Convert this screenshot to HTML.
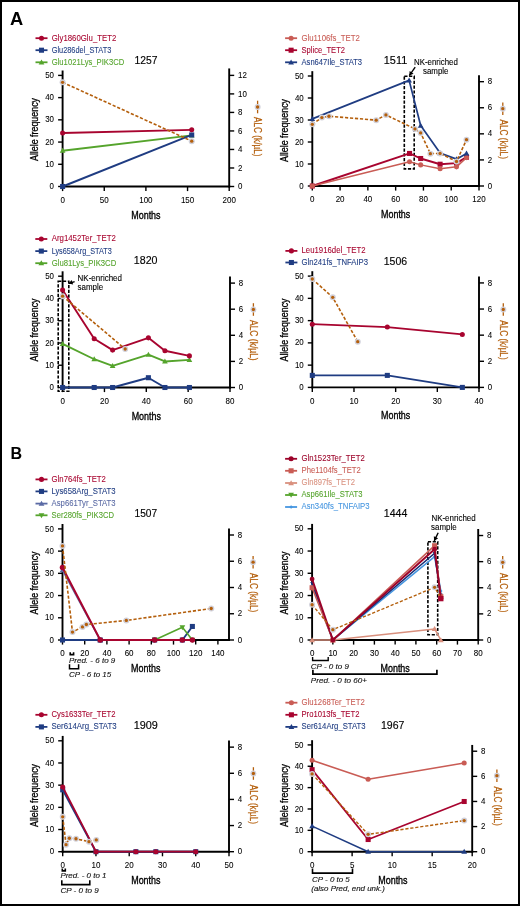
<!DOCTYPE html><html><head><meta charset="utf-8"><style>html,body{margin:0;padding:0;background:#fff;}svg{display:block;will-change:transform;}text{font-family:"Liberation Sans",sans-serif;}</style></head><body>
<svg width="520" height="906" viewBox="0 0 520 906">
<rect x="0" y="0" width="520" height="906" fill="#fff"/>
<text x="10" y="24.9" font-size="18" fill="#000" textLength="13.2" lengthAdjust="spacingAndGlyphs" font-weight="bold">A</text>
<text x="10.4" y="458.8" font-size="17.4" fill="#000" textLength="11.6" lengthAdjust="spacingAndGlyphs" font-weight="bold">B</text>
<line x1="62.6" y1="70.51" x2="62.6" y2="187.5" stroke="#000" stroke-width="1.9" stroke-linecap="butt"/>
<line x1="229.2" y1="68.44" x2="229.2" y2="187.5" stroke="#000" stroke-width="1.9" stroke-linecap="butt"/>
<line x1="61.6" y1="186.5" x2="230.2" y2="186.5" stroke="#000" stroke-width="1.9" stroke-linecap="butt"/>
<line x1="58.1" y1="186.5" x2="62.6" y2="186.5" stroke="#000" stroke-width="1.4" stroke-linecap="butt"/>
<text x="54" y="189.1" font-size="9" fill="#000" stroke="#000" stroke-width="0.08" text-anchor="end" textLength="4.4" lengthAdjust="spacingAndGlyphs">0</text>
<line x1="58.1" y1="164.28" x2="62.6" y2="164.28" stroke="#000" stroke-width="1.4" stroke-linecap="butt"/>
<text x="54" y="166.88" font-size="9" fill="#000" stroke="#000" stroke-width="0.08" text-anchor="end" textLength="8.8" lengthAdjust="spacingAndGlyphs">10</text>
<line x1="58.1" y1="142.06" x2="62.6" y2="142.06" stroke="#000" stroke-width="1.4" stroke-linecap="butt"/>
<text x="54" y="144.66" font-size="9" fill="#000" stroke="#000" stroke-width="0.08" text-anchor="end" textLength="8.8" lengthAdjust="spacingAndGlyphs">20</text>
<line x1="58.1" y1="119.84" x2="62.6" y2="119.84" stroke="#000" stroke-width="1.4" stroke-linecap="butt"/>
<text x="54" y="122.44" font-size="9" fill="#000" stroke="#000" stroke-width="0.08" text-anchor="end" textLength="8.8" lengthAdjust="spacingAndGlyphs">30</text>
<line x1="58.1" y1="97.62" x2="62.6" y2="97.62" stroke="#000" stroke-width="1.4" stroke-linecap="butt"/>
<text x="54" y="100.22" font-size="9" fill="#000" stroke="#000" stroke-width="0.08" text-anchor="end" textLength="8.8" lengthAdjust="spacingAndGlyphs">40</text>
<line x1="58.1" y1="75.4" x2="62.6" y2="75.4" stroke="#000" stroke-width="1.4" stroke-linecap="butt"/>
<text x="54" y="78" font-size="9" fill="#000" stroke="#000" stroke-width="0.08" text-anchor="end" textLength="8.8" lengthAdjust="spacingAndGlyphs">50</text>
<line x1="229.2" y1="186.5" x2="234.2" y2="186.5" stroke="#000" stroke-width="1.4" stroke-linecap="butt"/>
<text x="238" y="189.1" font-size="9" fill="#000" stroke="#000" stroke-width="0.08" textLength="4.4" lengthAdjust="spacingAndGlyphs">0</text>
<line x1="229.2" y1="167.98" x2="234.2" y2="167.98" stroke="#000" stroke-width="1.4" stroke-linecap="butt"/>
<text x="238" y="170.58" font-size="9" fill="#000" stroke="#000" stroke-width="0.08" textLength="4.4" lengthAdjust="spacingAndGlyphs">2</text>
<line x1="229.2" y1="149.46" x2="234.2" y2="149.46" stroke="#000" stroke-width="1.4" stroke-linecap="butt"/>
<text x="238" y="152.06" font-size="9" fill="#000" stroke="#000" stroke-width="0.08" textLength="4.4" lengthAdjust="spacingAndGlyphs">4</text>
<line x1="229.2" y1="130.94" x2="234.2" y2="130.94" stroke="#000" stroke-width="1.4" stroke-linecap="butt"/>
<text x="238" y="133.54" font-size="9" fill="#000" stroke="#000" stroke-width="0.08" textLength="4.4" lengthAdjust="spacingAndGlyphs">6</text>
<line x1="229.2" y1="112.42" x2="234.2" y2="112.42" stroke="#000" stroke-width="1.4" stroke-linecap="butt"/>
<text x="238" y="115.02" font-size="9" fill="#000" stroke="#000" stroke-width="0.08" textLength="4.4" lengthAdjust="spacingAndGlyphs">8</text>
<line x1="229.2" y1="93.9" x2="234.2" y2="93.9" stroke="#000" stroke-width="1.4" stroke-linecap="butt"/>
<text x="238" y="96.5" font-size="9" fill="#000" stroke="#000" stroke-width="0.08" textLength="8.8" lengthAdjust="spacingAndGlyphs">10</text>
<line x1="229.2" y1="75.38" x2="234.2" y2="75.38" stroke="#000" stroke-width="1.4" stroke-linecap="butt"/>
<text x="238" y="77.98" font-size="9" fill="#000" stroke="#000" stroke-width="0.08" textLength="8.8" lengthAdjust="spacingAndGlyphs">12</text>
<line x1="62.6" y1="186.5" x2="62.6" y2="191.1" stroke="#000" stroke-width="1.4" stroke-linecap="butt"/>
<line x1="104.25" y1="186.5" x2="104.25" y2="191.1" stroke="#000" stroke-width="1.4" stroke-linecap="butt"/>
<line x1="145.9" y1="186.5" x2="145.9" y2="191.1" stroke="#000" stroke-width="1.4" stroke-linecap="butt"/>
<line x1="187.55" y1="186.5" x2="187.55" y2="191.1" stroke="#000" stroke-width="1.4" stroke-linecap="butt"/>
<line x1="229.2" y1="186.5" x2="229.2" y2="191.1" stroke="#000" stroke-width="1.4" stroke-linecap="butt"/>
<text x="62.6" y="202.7" font-size="9" fill="#000" stroke="#000" stroke-width="0.08" text-anchor="middle" textLength="4.45" lengthAdjust="spacingAndGlyphs">0</text>
<text x="104.25" y="202.7" font-size="9" fill="#000" stroke="#000" stroke-width="0.08" text-anchor="middle" textLength="8.9" lengthAdjust="spacingAndGlyphs">50</text>
<text x="145.9" y="202.7" font-size="9" fill="#000" stroke="#000" stroke-width="0.08" text-anchor="middle" textLength="13.35" lengthAdjust="spacingAndGlyphs">100</text>
<text x="187.55" y="202.7" font-size="9" fill="#000" stroke="#000" stroke-width="0.08" text-anchor="middle" textLength="13.35" lengthAdjust="spacingAndGlyphs">150</text>
<text x="229.2" y="202.7" font-size="9" fill="#000" stroke="#000" stroke-width="0.08" text-anchor="middle" textLength="13.35" lengthAdjust="spacingAndGlyphs">200</text>
<polyline points="62.6,150.73 191.71,135.39" fill="none" stroke="#55a42c" stroke-width="1.9" stroke-linejoin="round"/>
<polygon points="62.6,147.87 59.74,152.87 65.46,152.87" fill="#55a42c"/>
<polygon points="191.71,132.53 188.85,137.54 194.57,137.54" fill="#55a42c"/>
<polyline points="62.6,186.5 191.71,134.95" fill="none" stroke="#1f3c82" stroke-width="1.9" stroke-linejoin="round"/>
<rect x="60.07" y="183.97" width="5.06" height="5.06" fill="#1f3c82"/>
<rect x="189.18" y="132.42" width="5.06" height="5.06" fill="#1f3c82"/>
<polyline points="62.6,132.95 191.71,129.84" fill="none" stroke="#a8042f" stroke-width="1.9" stroke-linejoin="round"/>
<circle cx="62.6" cy="132.95" r="2.53" fill="#a8042f"/>
<circle cx="191.71" cy="129.84" r="2.53" fill="#a8042f"/>
<polyline points="62.6,82.33 191.71,141.13" fill="none" stroke="#b45f0c" stroke-width="1.6" stroke-linejoin="round" stroke-dasharray="3.2,1.8"/>
<circle cx="62.6" cy="82.33" r="3.0" fill="#d0d0da"/>
<circle cx="62.6" cy="82.33" r="1.65" fill="#b45f0c"/>
<circle cx="191.71" cy="141.13" r="3.0" fill="#d0d0da"/>
<circle cx="191.71" cy="141.13" r="1.65" fill="#b45f0c"/>
<text x="38" y="129.5" font-size="11.5" fill="#000" stroke="#000" stroke-width="0.3" text-anchor="middle" textLength="63" lengthAdjust="spacingAndGlyphs" transform="rotate(-90 38 129.5)">Allele frequency</text>
<text x="145.9" y="218.5" font-size="10.8" fill="#000" stroke="#000" stroke-width="0.35" text-anchor="middle" textLength="29.3" lengthAdjust="spacingAndGlyphs">Months</text>
<line x1="257.6" y1="100.7" x2="257.6" y2="104.4" stroke="#b45f0c" stroke-width="1.3" stroke-linecap="butt"/>
<line x1="257.6" y1="109.6" x2="257.6" y2="113.3" stroke="#b45f0c" stroke-width="1.3" stroke-linecap="butt"/>
<circle cx="257.6" cy="107" r="3.0" fill="#d0d0da"/>
<circle cx="257.6" cy="107" r="1.65" fill="#b45f0c"/>
<text x="254.4" y="136.8" font-size="10.4" fill="#b45f0c" stroke="#b45f0c" stroke-width="0.25" text-anchor="middle" textLength="39.6" lengthAdjust="spacingAndGlyphs" transform="rotate(90 254.4 136.8)">ALC (k/µL)</text>
<line x1="35.5" y1="38.2" x2="47.5" y2="38.2" stroke="#a8042f" stroke-width="1.8" stroke-linecap="butt"/>
<circle cx="41.5" cy="38.2" r="2.53" fill="#a8042f"/>
<text x="51.7" y="40.6" font-size="8.2" fill="#a8042f" stroke="#a8042f" stroke-width="0.08" textLength="64.6" lengthAdjust="spacingAndGlyphs">Gly1860Glu_TET2</text>
<line x1="35.5" y1="50.2" x2="47.5" y2="50.2" stroke="#1f3c82" stroke-width="1.8" stroke-linecap="butt"/>
<rect x="38.97" y="47.67" width="5.06" height="5.06" fill="#1f3c82"/>
<text x="51.7" y="52.6" font-size="8.2" fill="#1f3c82" stroke="#1f3c82" stroke-width="0.08" textLength="59.6" lengthAdjust="spacingAndGlyphs">Glu286del_STAT3</text>
<line x1="35.5" y1="62.3" x2="47.5" y2="62.3" stroke="#55a42c" stroke-width="1.8" stroke-linecap="butt"/>
<polygon points="41.5,59.44 38.64,64.44 44.36,64.44" fill="#55a42c"/>
<text x="51.7" y="64.7" font-size="8.2" fill="#55a42c" stroke="#55a42c" stroke-width="0.08" textLength="72.6" lengthAdjust="spacingAndGlyphs">Glu1021Lys_PIK3CD</text>
<text x="134.5" y="63.8" font-size="11.3" fill="#000" stroke="#000" stroke-width="0.15" textLength="23" lengthAdjust="spacingAndGlyphs">1257</text>
<line x1="312.3" y1="71.16" x2="312.3" y2="187" stroke="#000" stroke-width="1.9" stroke-linecap="butt"/>
<line x1="479" y1="75.16" x2="479" y2="187" stroke="#000" stroke-width="1.9" stroke-linecap="butt"/>
<line x1="311.3" y1="186" x2="480" y2="186" stroke="#000" stroke-width="1.9" stroke-linecap="butt"/>
<line x1="307.8" y1="186" x2="312.3" y2="186" stroke="#000" stroke-width="1.4" stroke-linecap="butt"/>
<text x="303.7" y="188.6" font-size="9" fill="#000" stroke="#000" stroke-width="0.08" text-anchor="end" textLength="4.4" lengthAdjust="spacingAndGlyphs">0</text>
<line x1="307.8" y1="164" x2="312.3" y2="164" stroke="#000" stroke-width="1.4" stroke-linecap="butt"/>
<text x="303.7" y="166.6" font-size="9" fill="#000" stroke="#000" stroke-width="0.08" text-anchor="end" textLength="8.8" lengthAdjust="spacingAndGlyphs">10</text>
<line x1="307.8" y1="142" x2="312.3" y2="142" stroke="#000" stroke-width="1.4" stroke-linecap="butt"/>
<text x="303.7" y="144.6" font-size="9" fill="#000" stroke="#000" stroke-width="0.08" text-anchor="end" textLength="8.8" lengthAdjust="spacingAndGlyphs">20</text>
<line x1="307.8" y1="120" x2="312.3" y2="120" stroke="#000" stroke-width="1.4" stroke-linecap="butt"/>
<text x="303.7" y="122.6" font-size="9" fill="#000" stroke="#000" stroke-width="0.08" text-anchor="end" textLength="8.8" lengthAdjust="spacingAndGlyphs">30</text>
<line x1="307.8" y1="98" x2="312.3" y2="98" stroke="#000" stroke-width="1.4" stroke-linecap="butt"/>
<text x="303.7" y="100.6" font-size="9" fill="#000" stroke="#000" stroke-width="0.08" text-anchor="end" textLength="8.8" lengthAdjust="spacingAndGlyphs">40</text>
<line x1="307.8" y1="76" x2="312.3" y2="76" stroke="#000" stroke-width="1.4" stroke-linecap="butt"/>
<text x="303.7" y="78.6" font-size="9" fill="#000" stroke="#000" stroke-width="0.08" text-anchor="end" textLength="8.8" lengthAdjust="spacingAndGlyphs">50</text>
<line x1="479" y1="186" x2="484" y2="186" stroke="#000" stroke-width="1.4" stroke-linecap="butt"/>
<text x="487.8" y="188.6" font-size="9" fill="#000" stroke="#000" stroke-width="0.08" textLength="4.4" lengthAdjust="spacingAndGlyphs">0</text>
<line x1="479" y1="159.92" x2="484" y2="159.92" stroke="#000" stroke-width="1.4" stroke-linecap="butt"/>
<text x="487.8" y="162.52" font-size="9" fill="#000" stroke="#000" stroke-width="0.08" textLength="4.4" lengthAdjust="spacingAndGlyphs">2</text>
<line x1="479" y1="133.84" x2="484" y2="133.84" stroke="#000" stroke-width="1.4" stroke-linecap="butt"/>
<text x="487.8" y="136.44" font-size="9" fill="#000" stroke="#000" stroke-width="0.08" textLength="4.4" lengthAdjust="spacingAndGlyphs">4</text>
<line x1="479" y1="107.76" x2="484" y2="107.76" stroke="#000" stroke-width="1.4" stroke-linecap="butt"/>
<text x="487.8" y="110.36" font-size="9" fill="#000" stroke="#000" stroke-width="0.08" textLength="4.4" lengthAdjust="spacingAndGlyphs">6</text>
<line x1="479" y1="81.68" x2="484" y2="81.68" stroke="#000" stroke-width="1.4" stroke-linecap="butt"/>
<text x="487.8" y="84.28" font-size="9" fill="#000" stroke="#000" stroke-width="0.08" textLength="4.4" lengthAdjust="spacingAndGlyphs">8</text>
<line x1="312.3" y1="186" x2="312.3" y2="190.6" stroke="#000" stroke-width="1.4" stroke-linecap="butt"/>
<line x1="340.08" y1="186" x2="340.08" y2="190.6" stroke="#000" stroke-width="1.4" stroke-linecap="butt"/>
<line x1="367.87" y1="186" x2="367.87" y2="190.6" stroke="#000" stroke-width="1.4" stroke-linecap="butt"/>
<line x1="395.65" y1="186" x2="395.65" y2="190.6" stroke="#000" stroke-width="1.4" stroke-linecap="butt"/>
<line x1="423.43" y1="186" x2="423.43" y2="190.6" stroke="#000" stroke-width="1.4" stroke-linecap="butt"/>
<line x1="451.22" y1="186" x2="451.22" y2="190.6" stroke="#000" stroke-width="1.4" stroke-linecap="butt"/>
<line x1="479" y1="186" x2="479" y2="190.6" stroke="#000" stroke-width="1.4" stroke-linecap="butt"/>
<text x="312.3" y="202.2" font-size="9" fill="#000" stroke="#000" stroke-width="0.08" text-anchor="middle" textLength="4.45" lengthAdjust="spacingAndGlyphs">0</text>
<text x="340.08" y="202.2" font-size="9" fill="#000" stroke="#000" stroke-width="0.08" text-anchor="middle" textLength="8.9" lengthAdjust="spacingAndGlyphs">20</text>
<text x="367.87" y="202.2" font-size="9" fill="#000" stroke="#000" stroke-width="0.08" text-anchor="middle" textLength="8.9" lengthAdjust="spacingAndGlyphs">40</text>
<text x="395.65" y="202.2" font-size="9" fill="#000" stroke="#000" stroke-width="0.08" text-anchor="middle" textLength="8.9" lengthAdjust="spacingAndGlyphs">60</text>
<text x="423.43" y="202.2" font-size="9" fill="#000" stroke="#000" stroke-width="0.08" text-anchor="middle" textLength="8.9" lengthAdjust="spacingAndGlyphs">80</text>
<text x="451.22" y="202.2" font-size="9" fill="#000" stroke="#000" stroke-width="0.08" text-anchor="middle" textLength="13.35" lengthAdjust="spacingAndGlyphs">100</text>
<text x="479" y="202.2" font-size="9" fill="#000" stroke="#000" stroke-width="0.08" text-anchor="middle" textLength="13.35" lengthAdjust="spacingAndGlyphs">120</text>
<rect x="404.3" y="76.3" width="9.9" height="92.6" fill="none" stroke="#000" stroke-width="1.6" stroke-dasharray="3.2,1.6"/>
<line x1="415.2" y1="67.2" x2="409.3" y2="75.6" stroke="#000" stroke-width="1.4" stroke-linecap="butt"/>
<polygon points="409.3,75.6 409.64,70.95 413.56,73.71" fill="#000"/>
<text x="414" y="65.2" font-size="8.2" fill="#000" stroke="#000" stroke-width="0.1" textLength="43.8" lengthAdjust="spacingAndGlyphs">NK-enriched</text>
<text x="423" y="74" font-size="8.2" fill="#000" stroke="#000" stroke-width="0.1" textLength="25.5" lengthAdjust="spacingAndGlyphs">sample</text>
<polyline points="312.3,186 409.54,153.44 420.66,158.5 440.1,164.22 456.5,163.12 466.5,157.18" fill="none" stroke="#a8042f" stroke-width="1.9" stroke-linejoin="round"/>
<rect x="309.77" y="183.47" width="5.06" height="5.06" fill="#a8042f"/>
<rect x="407.01" y="150.91" width="5.06" height="5.06" fill="#a8042f"/>
<rect x="418.13" y="155.97" width="5.06" height="5.06" fill="#a8042f"/>
<rect x="437.57" y="161.69" width="5.06" height="5.06" fill="#a8042f"/>
<rect x="453.97" y="160.59" width="5.06" height="5.06" fill="#a8042f"/>
<rect x="463.97" y="154.65" width="5.06" height="5.06" fill="#a8042f"/>
<polyline points="312.3,186 409.54,161.8 420.66,164.88 440.1,168.84 456.5,166.86 466.5,157.62" fill="none" stroke="#c95c55" stroke-width="1.5" stroke-linejoin="round"/>
<circle cx="312.3" cy="186" r="2.53" fill="#c95c55"/>
<circle cx="409.54" cy="161.8" r="2.53" fill="#c95c55"/>
<circle cx="420.66" cy="164.88" r="2.53" fill="#c95c55"/>
<circle cx="440.1" cy="168.84" r="2.53" fill="#c95c55"/>
<circle cx="456.5" cy="166.86" r="2.53" fill="#c95c55"/>
<circle cx="466.5" cy="157.62" r="2.53" fill="#c95c55"/>
<polyline points="312.3,118.9 409.12,80.4 420.66,125.5 440.1,153 456.5,159.16 466.5,153.44" fill="none" stroke="#1f3c82" stroke-width="1.7" stroke-linejoin="round"/>
<polygon points="312.3,116.04 309.44,121.04 315.16,121.04" fill="#1f3c82"/>
<polygon points="409.12,77.54 406.26,82.54 411.98,82.54" fill="#1f3c82"/>
<polygon points="420.66,122.64 417.8,127.64 423.52,127.64" fill="#1f3c82"/>
<polygon points="440.1,150.14 437.24,155.15 442.96,155.15" fill="#1f3c82"/>
<polygon points="456.5,156.3 453.64,161.31 459.36,161.31" fill="#1f3c82"/>
<polygon points="466.5,150.58 463.64,155.59 469.36,155.59" fill="#1f3c82"/>
<polyline points="312.3,124.32 321.89,117.54 328.97,116.24 376.2,120.15 385.93,114.93 414.96,128.88 420.66,132.93 430.38,153.66 440.1,153.4 456.5,161.48 466.5,139.71" fill="none" stroke="#b45f0c" stroke-width="1.6" stroke-linejoin="round" stroke-dasharray="3.2,1.8"/>
<circle cx="312.3" cy="124.32" r="3.0" fill="#d0d0da"/>
<circle cx="312.3" cy="124.32" r="1.65" fill="#b45f0c"/>
<circle cx="321.89" cy="117.54" r="3.0" fill="#d0d0da"/>
<circle cx="321.89" cy="117.54" r="1.65" fill="#b45f0c"/>
<circle cx="328.97" cy="116.24" r="3.0" fill="#d0d0da"/>
<circle cx="328.97" cy="116.24" r="1.65" fill="#b45f0c"/>
<circle cx="376.2" cy="120.15" r="3.0" fill="#d0d0da"/>
<circle cx="376.2" cy="120.15" r="1.65" fill="#b45f0c"/>
<circle cx="385.93" cy="114.93" r="3.0" fill="#d0d0da"/>
<circle cx="385.93" cy="114.93" r="1.65" fill="#b45f0c"/>
<circle cx="414.96" cy="128.88" r="3.0" fill="#d0d0da"/>
<circle cx="414.96" cy="128.88" r="1.65" fill="#b45f0c"/>
<circle cx="420.66" cy="132.93" r="3.0" fill="#d0d0da"/>
<circle cx="420.66" cy="132.93" r="1.65" fill="#b45f0c"/>
<circle cx="430.38" cy="153.66" r="3.0" fill="#d0d0da"/>
<circle cx="430.38" cy="153.66" r="1.65" fill="#b45f0c"/>
<circle cx="440.1" cy="153.4" r="3.0" fill="#d0d0da"/>
<circle cx="440.1" cy="153.4" r="1.65" fill="#b45f0c"/>
<circle cx="456.5" cy="161.48" r="3.0" fill="#d0d0da"/>
<circle cx="456.5" cy="161.48" r="1.65" fill="#b45f0c"/>
<circle cx="466.5" cy="139.71" r="3.0" fill="#d0d0da"/>
<circle cx="466.5" cy="139.71" r="1.65" fill="#b45f0c"/>
<text x="287.5" y="130.5" font-size="11.5" fill="#000" stroke="#000" stroke-width="0.3" text-anchor="middle" textLength="63" lengthAdjust="spacingAndGlyphs" transform="rotate(-90 287.5 130.5)">Allele frequency</text>
<text x="395.65" y="218" font-size="10.8" fill="#000" stroke="#000" stroke-width="0.35" text-anchor="middle" textLength="29.3" lengthAdjust="spacingAndGlyphs">Months</text>
<line x1="502.8" y1="102.4" x2="502.8" y2="106.1" stroke="#b45f0c" stroke-width="1.3" stroke-linecap="butt"/>
<line x1="502.8" y1="111.3" x2="502.8" y2="115" stroke="#b45f0c" stroke-width="1.3" stroke-linecap="butt"/>
<circle cx="502.8" cy="108.7" r="3.0" fill="#d0d0da"/>
<circle cx="502.8" cy="108.7" r="1.65" fill="#b45f0c"/>
<text x="499.6" y="139.2" font-size="10.4" fill="#b45f0c" stroke="#b45f0c" stroke-width="0.25" text-anchor="middle" textLength="39.4" lengthAdjust="spacingAndGlyphs" transform="rotate(90 499.6 139.2)">ALC (k/µL)</text>
<line x1="285.1" y1="38.2" x2="297.1" y2="38.2" stroke="#c95c55" stroke-width="1.8" stroke-linecap="butt"/>
<circle cx="291.1" cy="38.2" r="2.53" fill="#c95c55"/>
<text x="301.5" y="40.6" font-size="8.2" fill="#c95c55" stroke="#c95c55" stroke-width="0.08" textLength="58.3" lengthAdjust="spacingAndGlyphs">Glu1106fs_TET2</text>
<line x1="285.1" y1="50.2" x2="297.1" y2="50.2" stroke="#a8042f" stroke-width="1.8" stroke-linecap="butt"/>
<rect x="288.57" y="47.67" width="5.06" height="5.06" fill="#a8042f"/>
<text x="301.5" y="52.6" font-size="8.2" fill="#a8042f" stroke="#a8042f" stroke-width="0.08" textLength="43.5" lengthAdjust="spacingAndGlyphs">Splice_TET2</text>
<line x1="285.1" y1="62.3" x2="297.1" y2="62.3" stroke="#1f3c82" stroke-width="1.8" stroke-linecap="butt"/>
<polygon points="291.1,59.44 288.24,64.44 293.96,64.44" fill="#1f3c82"/>
<text x="301.5" y="64.7" font-size="8.2" fill="#1f3c82" stroke="#1f3c82" stroke-width="0.08" textLength="60.6" lengthAdjust="spacingAndGlyphs">Asn647Ile_STAT3</text>
<text x="383.8" y="63.8" font-size="11.3" fill="#000" stroke="#000" stroke-width="0.15" textLength="23.4" lengthAdjust="spacingAndGlyphs">1511</text>
<line x1="62.6" y1="271.3" x2="62.6" y2="388.5" stroke="#000" stroke-width="1.9" stroke-linecap="butt"/>
<line x1="230" y1="276.57" x2="230" y2="388.5" stroke="#000" stroke-width="1.9" stroke-linecap="butt"/>
<line x1="61.6" y1="387.5" x2="231" y2="387.5" stroke="#000" stroke-width="1.9" stroke-linecap="butt"/>
<line x1="58.1" y1="387.5" x2="62.6" y2="387.5" stroke="#000" stroke-width="1.4" stroke-linecap="butt"/>
<text x="54" y="390.1" font-size="9" fill="#000" stroke="#000" stroke-width="0.08" text-anchor="end" textLength="4.4" lengthAdjust="spacingAndGlyphs">0</text>
<line x1="58.1" y1="365.24" x2="62.6" y2="365.24" stroke="#000" stroke-width="1.4" stroke-linecap="butt"/>
<text x="54" y="367.84" font-size="9" fill="#000" stroke="#000" stroke-width="0.08" text-anchor="end" textLength="8.8" lengthAdjust="spacingAndGlyphs">10</text>
<line x1="58.1" y1="342.98" x2="62.6" y2="342.98" stroke="#000" stroke-width="1.4" stroke-linecap="butt"/>
<text x="54" y="345.58" font-size="9" fill="#000" stroke="#000" stroke-width="0.08" text-anchor="end" textLength="8.8" lengthAdjust="spacingAndGlyphs">20</text>
<line x1="58.1" y1="320.72" x2="62.6" y2="320.72" stroke="#000" stroke-width="1.4" stroke-linecap="butt"/>
<text x="54" y="323.32" font-size="9" fill="#000" stroke="#000" stroke-width="0.08" text-anchor="end" textLength="8.8" lengthAdjust="spacingAndGlyphs">30</text>
<line x1="58.1" y1="298.46" x2="62.6" y2="298.46" stroke="#000" stroke-width="1.4" stroke-linecap="butt"/>
<text x="54" y="301.06" font-size="9" fill="#000" stroke="#000" stroke-width="0.08" text-anchor="end" textLength="8.8" lengthAdjust="spacingAndGlyphs">40</text>
<line x1="58.1" y1="276.2" x2="62.6" y2="276.2" stroke="#000" stroke-width="1.4" stroke-linecap="butt"/>
<text x="54" y="278.8" font-size="9" fill="#000" stroke="#000" stroke-width="0.08" text-anchor="end" textLength="8.8" lengthAdjust="spacingAndGlyphs">50</text>
<line x1="230" y1="387.5" x2="235" y2="387.5" stroke="#000" stroke-width="1.4" stroke-linecap="butt"/>
<text x="238.8" y="390.1" font-size="9" fill="#000" stroke="#000" stroke-width="0.08" textLength="4.4" lengthAdjust="spacingAndGlyphs">0</text>
<line x1="230" y1="361.4" x2="235" y2="361.4" stroke="#000" stroke-width="1.4" stroke-linecap="butt"/>
<text x="238.8" y="364" font-size="9" fill="#000" stroke="#000" stroke-width="0.08" textLength="4.4" lengthAdjust="spacingAndGlyphs">2</text>
<line x1="230" y1="335.3" x2="235" y2="335.3" stroke="#000" stroke-width="1.4" stroke-linecap="butt"/>
<text x="238.8" y="337.9" font-size="9" fill="#000" stroke="#000" stroke-width="0.08" textLength="4.4" lengthAdjust="spacingAndGlyphs">4</text>
<line x1="230" y1="309.2" x2="235" y2="309.2" stroke="#000" stroke-width="1.4" stroke-linecap="butt"/>
<text x="238.8" y="311.8" font-size="9" fill="#000" stroke="#000" stroke-width="0.08" textLength="4.4" lengthAdjust="spacingAndGlyphs">6</text>
<line x1="230" y1="283.1" x2="235" y2="283.1" stroke="#000" stroke-width="1.4" stroke-linecap="butt"/>
<text x="238.8" y="285.7" font-size="9" fill="#000" stroke="#000" stroke-width="0.08" textLength="4.4" lengthAdjust="spacingAndGlyphs">8</text>
<line x1="62.6" y1="387.5" x2="62.6" y2="392.1" stroke="#000" stroke-width="1.4" stroke-linecap="butt"/>
<line x1="104.45" y1="387.5" x2="104.45" y2="392.1" stroke="#000" stroke-width="1.4" stroke-linecap="butt"/>
<line x1="146.3" y1="387.5" x2="146.3" y2="392.1" stroke="#000" stroke-width="1.4" stroke-linecap="butt"/>
<line x1="188.15" y1="387.5" x2="188.15" y2="392.1" stroke="#000" stroke-width="1.4" stroke-linecap="butt"/>
<line x1="230" y1="387.5" x2="230" y2="392.1" stroke="#000" stroke-width="1.4" stroke-linecap="butt"/>
<text x="62.6" y="403.7" font-size="9" fill="#000" stroke="#000" stroke-width="0.08" text-anchor="middle" textLength="4.45" lengthAdjust="spacingAndGlyphs">0</text>
<text x="104.45" y="403.7" font-size="9" fill="#000" stroke="#000" stroke-width="0.08" text-anchor="middle" textLength="8.9" lengthAdjust="spacingAndGlyphs">20</text>
<text x="146.3" y="403.7" font-size="9" fill="#000" stroke="#000" stroke-width="0.08" text-anchor="middle" textLength="8.9" lengthAdjust="spacingAndGlyphs">40</text>
<text x="188.15" y="403.7" font-size="9" fill="#000" stroke="#000" stroke-width="0.08" text-anchor="middle" textLength="8.9" lengthAdjust="spacingAndGlyphs">60</text>
<text x="230" y="403.7" font-size="9" fill="#000" stroke="#000" stroke-width="0.08" text-anchor="middle" textLength="8.9" lengthAdjust="spacingAndGlyphs">80</text>
<rect x="58.2" y="281.2" width="10.6" height="110.1" fill="none" stroke="#000" stroke-width="1.6" stroke-dasharray="3.2,1.6"/>
<line x1="74.6" y1="281.6" x2="68.6" y2="283.6" stroke="#000" stroke-width="1.4" stroke-linecap="butt"/>
<polygon points="68.6,283.6 71.64,280.06 73.15,284.61" fill="#000"/>
<text x="77.6" y="280.5" font-size="8.2" fill="#000" stroke="#000" stroke-width="0.1" textLength="44.4" lengthAdjust="spacingAndGlyphs">NK-enriched</text>
<text x="77.6" y="289.6" font-size="8.2" fill="#000" stroke="#000" stroke-width="0.1" textLength="25.6" lengthAdjust="spacingAndGlyphs">sample</text>
<polyline points="62.6,387.5 94.2,387.5 112.61,387.5 148.39,377.71 164.92,387.5 189.41,387.5" fill="none" stroke="#1f3c82" stroke-width="1.9" stroke-linejoin="round"/>
<rect x="60.07" y="384.97" width="5.06" height="5.06" fill="#1f3c82"/>
<rect x="91.67" y="384.97" width="5.06" height="5.06" fill="#1f3c82"/>
<rect x="110.08" y="384.97" width="5.06" height="5.06" fill="#1f3c82"/>
<rect x="145.86" y="375.18" width="5.06" height="5.06" fill="#1f3c82"/>
<rect x="162.39" y="384.97" width="5.06" height="5.06" fill="#1f3c82"/>
<rect x="186.88" y="384.97" width="5.06" height="5.06" fill="#1f3c82"/>
<polyline points="62.6,343.87 94.2,359.23 112.61,365.91 148.39,354.56 164.92,361.46 189.41,359.9" fill="none" stroke="#55a42c" stroke-width="1.9" stroke-linejoin="round"/>
<polygon points="62.6,341.01 59.74,346.02 65.46,346.02" fill="#55a42c"/>
<polygon points="94.2,356.37 91.34,361.37 97.06,361.37" fill="#55a42c"/>
<polygon points="112.61,363.05 109.75,368.05 115.47,368.05" fill="#55a42c"/>
<polygon points="148.39,351.7 145.53,356.7 151.25,356.7" fill="#55a42c"/>
<polygon points="164.92,358.6 162.06,363.6 167.78,363.6" fill="#55a42c"/>
<polygon points="189.41,357.04 186.55,362.04 192.27,362.04" fill="#55a42c"/>
<polyline points="62.6,290 94.2,338.75 112.61,350.1 148.39,337.86 164.92,350.77 189.41,355.89" fill="none" stroke="#a8042f" stroke-width="1.9" stroke-linejoin="round"/>
<circle cx="62.6" cy="290" r="2.53" fill="#a8042f"/>
<circle cx="94.2" cy="338.75" r="2.53" fill="#a8042f"/>
<circle cx="112.61" cy="350.1" r="2.53" fill="#a8042f"/>
<circle cx="148.39" cy="337.86" r="2.53" fill="#a8042f"/>
<circle cx="164.92" cy="350.77" r="2.53" fill="#a8042f"/>
<circle cx="189.41" cy="355.89" r="2.53" fill="#a8042f"/>
<polyline points="62.6,296.15 125.17,349" fill="none" stroke="#b45f0c" stroke-width="1.6" stroke-linejoin="round" stroke-dasharray="3.2,1.8"/>
<circle cx="62.6" cy="296.15" r="3.0" fill="#d0d0da"/>
<circle cx="62.6" cy="296.15" r="1.65" fill="#b45f0c"/>
<circle cx="125.17" cy="349" r="3.0" fill="#d0d0da"/>
<circle cx="125.17" cy="349" r="1.65" fill="#b45f0c"/>
<text x="38" y="330" font-size="11.5" fill="#000" stroke="#000" stroke-width="0.3" text-anchor="middle" textLength="63" lengthAdjust="spacingAndGlyphs" transform="rotate(-90 38 330)">Allele frequency</text>
<text x="146.3" y="419.5" font-size="10.8" fill="#000" stroke="#000" stroke-width="0.35" text-anchor="middle" textLength="29.3" lengthAdjust="spacingAndGlyphs">Months</text>
<line x1="253.4" y1="303.2" x2="253.4" y2="306.9" stroke="#b45f0c" stroke-width="1.3" stroke-linecap="butt"/>
<line x1="253.4" y1="312.1" x2="253.4" y2="315.8" stroke="#b45f0c" stroke-width="1.3" stroke-linecap="butt"/>
<circle cx="253.4" cy="309.5" r="3.0" fill="#d0d0da"/>
<circle cx="253.4" cy="309.5" r="1.65" fill="#b45f0c"/>
<text x="250.2" y="340.35" font-size="10.4" fill="#b45f0c" stroke="#b45f0c" stroke-width="0.25" text-anchor="middle" textLength="40.7" lengthAdjust="spacingAndGlyphs" transform="rotate(90 250.2 340.35)">ALC (k/µL)</text>
<line x1="35.3" y1="239" x2="47.3" y2="239" stroke="#a8042f" stroke-width="1.8" stroke-linecap="butt"/>
<circle cx="41.3" cy="239" r="2.53" fill="#a8042f"/>
<text x="51.7" y="241.4" font-size="8.2" fill="#a8042f" stroke="#a8042f" stroke-width="0.08" textLength="64.1" lengthAdjust="spacingAndGlyphs">Arg1452Ter_TET2</text>
<line x1="35.3" y1="251.1" x2="47.3" y2="251.1" stroke="#1f3c82" stroke-width="1.8" stroke-linecap="butt"/>
<rect x="38.77" y="248.57" width="5.06" height="5.06" fill="#1f3c82"/>
<text x="51.7" y="253.5" font-size="8.2" fill="#1f3c82" stroke="#1f3c82" stroke-width="0.08" textLength="60.1" lengthAdjust="spacingAndGlyphs">Lys658Arg_STAT3</text>
<line x1="35.3" y1="263.2" x2="47.3" y2="263.2" stroke="#55a42c" stroke-width="1.8" stroke-linecap="butt"/>
<polygon points="41.3,260.34 38.44,265.34 44.16,265.34" fill="#55a42c"/>
<text x="51.7" y="265.6" font-size="8.2" fill="#55a42c" stroke="#55a42c" stroke-width="0.08" textLength="64.6" lengthAdjust="spacingAndGlyphs">Glu81Lys_PIK3CD</text>
<text x="133.8" y="264.4" font-size="11.3" fill="#000" stroke="#000" stroke-width="0.15" textLength="23.7" lengthAdjust="spacingAndGlyphs">1820</text>
<line x1="312.3" y1="271.2" x2="312.3" y2="388.4" stroke="#000" stroke-width="1.9" stroke-linecap="butt"/>
<line x1="479" y1="276.39" x2="479" y2="388.4" stroke="#000" stroke-width="1.9" stroke-linecap="butt"/>
<line x1="311.3" y1="387.4" x2="480" y2="387.4" stroke="#000" stroke-width="1.9" stroke-linecap="butt"/>
<line x1="307.8" y1="387.4" x2="312.3" y2="387.4" stroke="#000" stroke-width="1.4" stroke-linecap="butt"/>
<text x="303.7" y="390" font-size="9" fill="#000" stroke="#000" stroke-width="0.08" text-anchor="end" textLength="4.4" lengthAdjust="spacingAndGlyphs">0</text>
<line x1="307.8" y1="365.14" x2="312.3" y2="365.14" stroke="#000" stroke-width="1.4" stroke-linecap="butt"/>
<text x="303.7" y="367.74" font-size="9" fill="#000" stroke="#000" stroke-width="0.08" text-anchor="end" textLength="8.8" lengthAdjust="spacingAndGlyphs">10</text>
<line x1="307.8" y1="342.88" x2="312.3" y2="342.88" stroke="#000" stroke-width="1.4" stroke-linecap="butt"/>
<text x="303.7" y="345.48" font-size="9" fill="#000" stroke="#000" stroke-width="0.08" text-anchor="end" textLength="8.8" lengthAdjust="spacingAndGlyphs">20</text>
<line x1="307.8" y1="320.62" x2="312.3" y2="320.62" stroke="#000" stroke-width="1.4" stroke-linecap="butt"/>
<text x="303.7" y="323.22" font-size="9" fill="#000" stroke="#000" stroke-width="0.08" text-anchor="end" textLength="8.8" lengthAdjust="spacingAndGlyphs">30</text>
<line x1="307.8" y1="298.36" x2="312.3" y2="298.36" stroke="#000" stroke-width="1.4" stroke-linecap="butt"/>
<text x="303.7" y="300.96" font-size="9" fill="#000" stroke="#000" stroke-width="0.08" text-anchor="end" textLength="8.8" lengthAdjust="spacingAndGlyphs">40</text>
<line x1="307.8" y1="276.1" x2="312.3" y2="276.1" stroke="#000" stroke-width="1.4" stroke-linecap="butt"/>
<text x="303.7" y="278.7" font-size="9" fill="#000" stroke="#000" stroke-width="0.08" text-anchor="end" textLength="8.8" lengthAdjust="spacingAndGlyphs">50</text>
<line x1="479" y1="387.4" x2="484" y2="387.4" stroke="#000" stroke-width="1.4" stroke-linecap="butt"/>
<text x="487.8" y="390" font-size="9" fill="#000" stroke="#000" stroke-width="0.08" textLength="4.4" lengthAdjust="spacingAndGlyphs">0</text>
<line x1="479" y1="361.28" x2="484" y2="361.28" stroke="#000" stroke-width="1.4" stroke-linecap="butt"/>
<text x="487.8" y="363.88" font-size="9" fill="#000" stroke="#000" stroke-width="0.08" textLength="4.4" lengthAdjust="spacingAndGlyphs">2</text>
<line x1="479" y1="335.16" x2="484" y2="335.16" stroke="#000" stroke-width="1.4" stroke-linecap="butt"/>
<text x="487.8" y="337.76" font-size="9" fill="#000" stroke="#000" stroke-width="0.08" textLength="4.4" lengthAdjust="spacingAndGlyphs">4</text>
<line x1="479" y1="309.04" x2="484" y2="309.04" stroke="#000" stroke-width="1.4" stroke-linecap="butt"/>
<text x="487.8" y="311.64" font-size="9" fill="#000" stroke="#000" stroke-width="0.08" textLength="4.4" lengthAdjust="spacingAndGlyphs">6</text>
<line x1="479" y1="282.92" x2="484" y2="282.92" stroke="#000" stroke-width="1.4" stroke-linecap="butt"/>
<text x="487.8" y="285.52" font-size="9" fill="#000" stroke="#000" stroke-width="0.08" textLength="4.4" lengthAdjust="spacingAndGlyphs">8</text>
<line x1="312.3" y1="387.4" x2="312.3" y2="392" stroke="#000" stroke-width="1.4" stroke-linecap="butt"/>
<line x1="353.98" y1="387.4" x2="353.98" y2="392" stroke="#000" stroke-width="1.4" stroke-linecap="butt"/>
<line x1="395.65" y1="387.4" x2="395.65" y2="392" stroke="#000" stroke-width="1.4" stroke-linecap="butt"/>
<line x1="437.32" y1="387.4" x2="437.32" y2="392" stroke="#000" stroke-width="1.4" stroke-linecap="butt"/>
<line x1="479" y1="387.4" x2="479" y2="392" stroke="#000" stroke-width="1.4" stroke-linecap="butt"/>
<text x="312.3" y="403.6" font-size="9" fill="#000" stroke="#000" stroke-width="0.08" text-anchor="middle" textLength="4.45" lengthAdjust="spacingAndGlyphs">0</text>
<text x="353.98" y="403.6" font-size="9" fill="#000" stroke="#000" stroke-width="0.08" text-anchor="middle" textLength="8.9" lengthAdjust="spacingAndGlyphs">10</text>
<text x="395.65" y="403.6" font-size="9" fill="#000" stroke="#000" stroke-width="0.08" text-anchor="middle" textLength="8.9" lengthAdjust="spacingAndGlyphs">20</text>
<text x="437.32" y="403.6" font-size="9" fill="#000" stroke="#000" stroke-width="0.08" text-anchor="middle" textLength="8.9" lengthAdjust="spacingAndGlyphs">30</text>
<text x="479" y="403.6" font-size="9" fill="#000" stroke="#000" stroke-width="0.08" text-anchor="middle" textLength="8.9" lengthAdjust="spacingAndGlyphs">40</text>
<polyline points="312.3,375.38 387.31,375.38 462.33,387.4" fill="none" stroke="#1f3c82" stroke-width="1.7" stroke-linejoin="round"/>
<rect x="309.77" y="372.85" width="5.06" height="5.06" fill="#1f3c82"/>
<rect x="384.79" y="372.85" width="5.06" height="5.06" fill="#1f3c82"/>
<rect x="459.8" y="384.87" width="5.06" height="5.06" fill="#1f3c82"/>
<polyline points="312.3,324.18 387.31,327.08 462.33,334.42" fill="none" stroke="#a8042f" stroke-width="1.7" stroke-linejoin="round"/>
<circle cx="312.3" cy="324.18" r="2.53" fill="#a8042f"/>
<circle cx="387.31" cy="327.08" r="2.53" fill="#a8042f"/>
<circle cx="462.33" cy="334.42" r="2.53" fill="#a8042f"/>
<polyline points="312.3,279 332.72,297.29 357.73,341.69" fill="none" stroke="#b45f0c" stroke-width="1.6" stroke-linejoin="round" stroke-dasharray="3.2,1.8"/>
<circle cx="312.3" cy="279" r="3.0" fill="#d0d0da"/>
<circle cx="312.3" cy="279" r="1.65" fill="#b45f0c"/>
<circle cx="332.72" cy="297.29" r="3.0" fill="#d0d0da"/>
<circle cx="332.72" cy="297.29" r="1.65" fill="#b45f0c"/>
<circle cx="357.73" cy="341.69" r="3.0" fill="#d0d0da"/>
<circle cx="357.73" cy="341.69" r="1.65" fill="#b45f0c"/>
<text x="287.5" y="330" font-size="11.5" fill="#000" stroke="#000" stroke-width="0.3" text-anchor="middle" textLength="63" lengthAdjust="spacingAndGlyphs" transform="rotate(-90 287.5 330)">Allele frequency</text>
<text x="395.65" y="419.4" font-size="10.8" fill="#000" stroke="#000" stroke-width="0.35" text-anchor="middle" textLength="29.3" lengthAdjust="spacingAndGlyphs">Months</text>
<line x1="503.3" y1="303.2" x2="503.3" y2="306.9" stroke="#b45f0c" stroke-width="1.3" stroke-linecap="butt"/>
<line x1="503.3" y1="312.1" x2="503.3" y2="315.8" stroke="#b45f0c" stroke-width="1.3" stroke-linecap="butt"/>
<circle cx="503.3" cy="309.5" r="3.0" fill="#d0d0da"/>
<circle cx="503.3" cy="309.5" r="1.65" fill="#b45f0c"/>
<text x="500.1" y="339.95" font-size="10.4" fill="#b45f0c" stroke="#b45f0c" stroke-width="0.25" text-anchor="middle" textLength="39.5" lengthAdjust="spacingAndGlyphs" transform="rotate(90 500.1 339.95)">ALC (k/µL)</text>
<line x1="285.4" y1="250.9" x2="297.4" y2="250.9" stroke="#a8042f" stroke-width="1.8" stroke-linecap="butt"/>
<circle cx="291.4" cy="250.9" r="2.53" fill="#a8042f"/>
<text x="301.5" y="253.3" font-size="8.2" fill="#a8042f" stroke="#a8042f" stroke-width="0.08" textLength="64.1" lengthAdjust="spacingAndGlyphs">Leu1916del_TET2</text>
<line x1="285.4" y1="262.5" x2="297.4" y2="262.5" stroke="#1f3c82" stroke-width="1.8" stroke-linecap="butt"/>
<rect x="288.87" y="259.97" width="5.06" height="5.06" fill="#1f3c82"/>
<text x="301.5" y="264.9" font-size="8.2" fill="#1f3c82" stroke="#1f3c82" stroke-width="0.08" textLength="66.5" lengthAdjust="spacingAndGlyphs">Gln241fs_TNFAIP3</text>
<text x="383.7" y="264.6" font-size="11.3" fill="#000" stroke="#000" stroke-width="0.15" textLength="23.4" lengthAdjust="spacingAndGlyphs">1506</text>
<line x1="62.5" y1="524.01" x2="62.5" y2="641" stroke="#000" stroke-width="1.9" stroke-linecap="butt"/>
<line x1="229" y1="528.44" x2="229" y2="641" stroke="#000" stroke-width="1.9" stroke-linecap="butt"/>
<line x1="61.5" y1="640" x2="230" y2="640" stroke="#000" stroke-width="1.9" stroke-linecap="butt"/>
<line x1="58" y1="640" x2="62.5" y2="640" stroke="#000" stroke-width="1.4" stroke-linecap="butt"/>
<text x="53.9" y="642.6" font-size="9" fill="#000" stroke="#000" stroke-width="0.08" text-anchor="end" textLength="4.4" lengthAdjust="spacingAndGlyphs">0</text>
<line x1="58" y1="617.78" x2="62.5" y2="617.78" stroke="#000" stroke-width="1.4" stroke-linecap="butt"/>
<text x="53.9" y="620.38" font-size="9" fill="#000" stroke="#000" stroke-width="0.08" text-anchor="end" textLength="8.8" lengthAdjust="spacingAndGlyphs">10</text>
<line x1="58" y1="595.56" x2="62.5" y2="595.56" stroke="#000" stroke-width="1.4" stroke-linecap="butt"/>
<text x="53.9" y="598.16" font-size="9" fill="#000" stroke="#000" stroke-width="0.08" text-anchor="end" textLength="8.8" lengthAdjust="spacingAndGlyphs">20</text>
<line x1="58" y1="573.34" x2="62.5" y2="573.34" stroke="#000" stroke-width="1.4" stroke-linecap="butt"/>
<text x="53.9" y="575.94" font-size="9" fill="#000" stroke="#000" stroke-width="0.08" text-anchor="end" textLength="8.8" lengthAdjust="spacingAndGlyphs">30</text>
<line x1="58" y1="551.12" x2="62.5" y2="551.12" stroke="#000" stroke-width="1.4" stroke-linecap="butt"/>
<text x="53.9" y="553.72" font-size="9" fill="#000" stroke="#000" stroke-width="0.08" text-anchor="end" textLength="8.8" lengthAdjust="spacingAndGlyphs">40</text>
<line x1="58" y1="528.9" x2="62.5" y2="528.9" stroke="#000" stroke-width="1.4" stroke-linecap="butt"/>
<text x="53.9" y="531.5" font-size="9" fill="#000" stroke="#000" stroke-width="0.08" text-anchor="end" textLength="8.8" lengthAdjust="spacingAndGlyphs">50</text>
<line x1="229" y1="640" x2="234" y2="640" stroke="#000" stroke-width="1.4" stroke-linecap="butt"/>
<text x="237.8" y="642.6" font-size="9" fill="#000" stroke="#000" stroke-width="0.08" textLength="4.4" lengthAdjust="spacingAndGlyphs">0</text>
<line x1="229" y1="613.75" x2="234" y2="613.75" stroke="#000" stroke-width="1.4" stroke-linecap="butt"/>
<text x="237.8" y="616.35" font-size="9" fill="#000" stroke="#000" stroke-width="0.08" textLength="4.4" lengthAdjust="spacingAndGlyphs">2</text>
<line x1="229" y1="587.5" x2="234" y2="587.5" stroke="#000" stroke-width="1.4" stroke-linecap="butt"/>
<text x="237.8" y="590.1" font-size="9" fill="#000" stroke="#000" stroke-width="0.08" textLength="4.4" lengthAdjust="spacingAndGlyphs">4</text>
<line x1="229" y1="561.25" x2="234" y2="561.25" stroke="#000" stroke-width="1.4" stroke-linecap="butt"/>
<text x="237.8" y="563.85" font-size="9" fill="#000" stroke="#000" stroke-width="0.08" textLength="4.4" lengthAdjust="spacingAndGlyphs">6</text>
<line x1="229" y1="535" x2="234" y2="535" stroke="#000" stroke-width="1.4" stroke-linecap="butt"/>
<text x="237.8" y="537.6" font-size="9" fill="#000" stroke="#000" stroke-width="0.08" textLength="4.4" lengthAdjust="spacingAndGlyphs">8</text>
<line x1="62.5" y1="640" x2="62.5" y2="644.6" stroke="#000" stroke-width="1.4" stroke-linecap="butt"/>
<line x1="84.7" y1="640" x2="84.7" y2="644.6" stroke="#000" stroke-width="1.4" stroke-linecap="butt"/>
<line x1="106.9" y1="640" x2="106.9" y2="644.6" stroke="#000" stroke-width="1.4" stroke-linecap="butt"/>
<line x1="129.1" y1="640" x2="129.1" y2="644.6" stroke="#000" stroke-width="1.4" stroke-linecap="butt"/>
<line x1="151.3" y1="640" x2="151.3" y2="644.6" stroke="#000" stroke-width="1.4" stroke-linecap="butt"/>
<line x1="173.5" y1="640" x2="173.5" y2="644.6" stroke="#000" stroke-width="1.4" stroke-linecap="butt"/>
<line x1="195.7" y1="640" x2="195.7" y2="644.6" stroke="#000" stroke-width="1.4" stroke-linecap="butt"/>
<line x1="217.9" y1="640" x2="217.9" y2="644.6" stroke="#000" stroke-width="1.4" stroke-linecap="butt"/>
<text x="62.5" y="656.2" font-size="9" fill="#000" stroke="#000" stroke-width="0.08" text-anchor="middle" textLength="4.45" lengthAdjust="spacingAndGlyphs">0</text>
<text x="84.7" y="656.2" font-size="9" fill="#000" stroke="#000" stroke-width="0.08" text-anchor="middle" textLength="8.9" lengthAdjust="spacingAndGlyphs">20</text>
<text x="106.9" y="656.2" font-size="9" fill="#000" stroke="#000" stroke-width="0.08" text-anchor="middle" textLength="8.9" lengthAdjust="spacingAndGlyphs">40</text>
<text x="129.1" y="656.2" font-size="9" fill="#000" stroke="#000" stroke-width="0.08" text-anchor="middle" textLength="8.9" lengthAdjust="spacingAndGlyphs">60</text>
<text x="151.3" y="656.2" font-size="9" fill="#000" stroke="#000" stroke-width="0.08" text-anchor="middle" textLength="8.9" lengthAdjust="spacingAndGlyphs">80</text>
<text x="173.5" y="656.2" font-size="9" fill="#000" stroke="#000" stroke-width="0.08" text-anchor="middle" textLength="13.35" lengthAdjust="spacingAndGlyphs">100</text>
<text x="195.7" y="656.2" font-size="9" fill="#000" stroke="#000" stroke-width="0.08" text-anchor="middle" textLength="13.35" lengthAdjust="spacingAndGlyphs">120</text>
<text x="217.9" y="656.2" font-size="9" fill="#000" stroke="#000" stroke-width="0.08" text-anchor="middle" textLength="13.35" lengthAdjust="spacingAndGlyphs">140</text>
<polyline points="62.5,570.23 100.24,640" fill="none" stroke="#5a6aa4" stroke-width="1.6" stroke-linejoin="round"/>
<polygon points="62.5,567.37 59.64,572.37 65.36,572.37" fill="#5a6aa4"/>
<polygon points="100.24,637.14 97.38,642.14 103.1,642.14" fill="#5a6aa4"/>
<polyline points="62.5,640 100.24,640 154.63,640 182.38,640 192.37,626.45" fill="none" stroke="#1f3c82" stroke-width="1.9" stroke-linejoin="round"/>
<rect x="59.97" y="637.47" width="5.06" height="5.06" fill="#1f3c82"/>
<rect x="97.71" y="637.47" width="5.06" height="5.06" fill="#1f3c82"/>
<rect x="152.1" y="637.47" width="5.06" height="5.06" fill="#1f3c82"/>
<rect x="179.85" y="637.47" width="5.06" height="5.06" fill="#1f3c82"/>
<rect x="189.84" y="623.92" width="5.06" height="5.06" fill="#1f3c82"/>
<polyline points="154.63,640 182.38,627.33 192.37,640" fill="none" stroke="#55a42c" stroke-width="1.6" stroke-linejoin="round"/>
<polygon points="154.63,642.86 151.77,637.86 157.49,637.86" fill="#55a42c"/>
<polygon points="182.38,630.19 179.52,625.19 185.24,625.19" fill="#55a42c"/>
<polygon points="192.37,642.86 189.51,637.86 195.23,637.86" fill="#55a42c"/>
<polyline points="62.5,567.56 100.24,640 154.63,640 182.38,640 192.37,640" fill="none" stroke="#a8042f" stroke-width="2" stroke-linejoin="round"/>
<circle cx="62.5" cy="567.56" r="2.76" fill="#a8042f"/>
<circle cx="100.24" cy="640" r="2.76" fill="#a8042f"/>
<circle cx="154.63" cy="640" r="2.76" fill="#a8042f"/>
<circle cx="182.38" cy="640" r="2.76" fill="#a8042f"/>
<circle cx="192.37" cy="640" r="2.76" fill="#a8042f"/>
<polyline points="62.5,545.89 72.49,632.12 82.48,626.88 86.37,624.51 126.33,620.44 211.24,608.5" fill="none" stroke="#b45f0c" stroke-width="1.6" stroke-linejoin="round" stroke-dasharray="3.2,1.8"/>
<circle cx="62.5" cy="545.89" r="3.0" fill="#d0d0da"/>
<circle cx="62.5" cy="545.89" r="1.65" fill="#b45f0c"/>
<circle cx="72.49" cy="632.12" r="3.0" fill="#d0d0da"/>
<circle cx="72.49" cy="632.12" r="1.65" fill="#b45f0c"/>
<circle cx="82.48" cy="626.88" r="3.0" fill="#d0d0da"/>
<circle cx="82.48" cy="626.88" r="1.65" fill="#b45f0c"/>
<circle cx="86.37" cy="624.51" r="3.0" fill="#d0d0da"/>
<circle cx="86.37" cy="624.51" r="1.65" fill="#b45f0c"/>
<circle cx="126.33" cy="620.44" r="3.0" fill="#d0d0da"/>
<circle cx="126.33" cy="620.44" r="1.65" fill="#b45f0c"/>
<circle cx="211.24" cy="608.5" r="3.0" fill="#d0d0da"/>
<circle cx="211.24" cy="608.5" r="1.65" fill="#b45f0c"/>
<text x="38" y="583" font-size="11.5" fill="#000" stroke="#000" stroke-width="0.3" text-anchor="middle" textLength="63" lengthAdjust="spacingAndGlyphs" transform="rotate(-90 38 583)">Allele frequency</text>
<text x="145.75" y="672" font-size="10.8" fill="#000" stroke="#000" stroke-width="0.35" text-anchor="middle" textLength="29.3" lengthAdjust="spacingAndGlyphs">Months</text>
<line x1="253.1" y1="555.9" x2="253.1" y2="559.6" stroke="#b45f0c" stroke-width="1.3" stroke-linecap="butt"/>
<line x1="253.1" y1="564.8" x2="253.1" y2="568.5" stroke="#b45f0c" stroke-width="1.3" stroke-linecap="butt"/>
<circle cx="253.1" cy="562.2" r="3.0" fill="#d0d0da"/>
<circle cx="253.1" cy="562.2" r="1.65" fill="#b45f0c"/>
<text x="249.9" y="592.65" font-size="10.4" fill="#b45f0c" stroke="#b45f0c" stroke-width="0.25" text-anchor="middle" textLength="39.3" lengthAdjust="spacingAndGlyphs" transform="rotate(90 249.9 592.65)">ALC (k/µL)</text>
<line x1="35.5" y1="479.4" x2="47.5" y2="479.4" stroke="#a8042f" stroke-width="1.8" stroke-linecap="butt"/>
<circle cx="41.5" cy="479.4" r="2.53" fill="#a8042f"/>
<text x="51.6" y="481.8" font-size="8.2" fill="#a8042f" stroke="#a8042f" stroke-width="0.08" textLength="54.3" lengthAdjust="spacingAndGlyphs">Gln764fs_TET2</text>
<line x1="35.5" y1="491.4" x2="47.5" y2="491.4" stroke="#1f3c82" stroke-width="1.8" stroke-linecap="butt"/>
<rect x="38.97" y="488.87" width="5.06" height="5.06" fill="#1f3c82"/>
<text x="51.6" y="493.8" font-size="8.2" fill="#1f3c82" stroke="#1f3c82" stroke-width="0.08" textLength="64" lengthAdjust="spacingAndGlyphs">Lys658Arg_STAT3</text>
<line x1="35.5" y1="503.6" x2="47.5" y2="503.6" stroke="#5a6aa4" stroke-width="1.8" stroke-linecap="butt"/>
<polygon points="41.5,500.74 38.64,505.75 44.36,505.75" fill="#5a6aa4"/>
<text x="51.6" y="506" font-size="8.2" fill="#5a6aa4" stroke="#5a6aa4" stroke-width="0.08" textLength="64" lengthAdjust="spacingAndGlyphs">Asp661Tyr_STAT3</text>
<line x1="35.5" y1="515.3" x2="47.5" y2="515.3" stroke="#55a42c" stroke-width="1.8" stroke-linecap="butt"/>
<polygon points="41.5,518.16 38.64,513.15 44.36,513.15" fill="#55a42c"/>
<text x="51.6" y="517.7" font-size="8.2" fill="#55a42c" stroke="#55a42c" stroke-width="0.08" textLength="62.4" lengthAdjust="spacingAndGlyphs">Ser280fs_PIK3CD</text>
<text x="134.5" y="517.2" font-size="11.3" fill="#000" stroke="#000" stroke-width="0.15" textLength="22.6" lengthAdjust="spacingAndGlyphs">1507</text>
<path d="M70.2,652.2 V654.6 H73.6 V652.2" fill="none" stroke="#000" stroke-width="1.6"/>
<text x="68.9" y="663" font-size="7.6" fill="#111" stroke="#111" stroke-width="0.12" textLength="46.4" lengthAdjust="spacingAndGlyphs" font-style="italic">Pred. - 6 to 9</text>
<path d="M69.5,664.2 V668.7 H78.6 V664.2" fill="none" stroke="#000" stroke-width="1.5"/>
<text x="68.9" y="677" font-size="7.6" fill="#111" stroke="#111" stroke-width="0.12" textLength="42.3" lengthAdjust="spacingAndGlyphs" font-style="italic">CP - 6 to 15</text>
<line x1="312.1" y1="523.91" x2="312.1" y2="641" stroke="#000" stroke-width="1.9" stroke-linecap="butt"/>
<line x1="478.2" y1="528.99" x2="478.2" y2="641" stroke="#000" stroke-width="1.9" stroke-linecap="butt"/>
<line x1="311.1" y1="640" x2="479.2" y2="640" stroke="#000" stroke-width="1.9" stroke-linecap="butt"/>
<line x1="307.6" y1="640" x2="312.1" y2="640" stroke="#000" stroke-width="1.4" stroke-linecap="butt"/>
<text x="303.5" y="642.6" font-size="9" fill="#000" stroke="#000" stroke-width="0.08" text-anchor="end" textLength="4.4" lengthAdjust="spacingAndGlyphs">0</text>
<line x1="307.6" y1="617.76" x2="312.1" y2="617.76" stroke="#000" stroke-width="1.4" stroke-linecap="butt"/>
<text x="303.5" y="620.36" font-size="9" fill="#000" stroke="#000" stroke-width="0.08" text-anchor="end" textLength="8.8" lengthAdjust="spacingAndGlyphs">10</text>
<line x1="307.6" y1="595.52" x2="312.1" y2="595.52" stroke="#000" stroke-width="1.4" stroke-linecap="butt"/>
<text x="303.5" y="598.12" font-size="9" fill="#000" stroke="#000" stroke-width="0.08" text-anchor="end" textLength="8.8" lengthAdjust="spacingAndGlyphs">20</text>
<line x1="307.6" y1="573.28" x2="312.1" y2="573.28" stroke="#000" stroke-width="1.4" stroke-linecap="butt"/>
<text x="303.5" y="575.88" font-size="9" fill="#000" stroke="#000" stroke-width="0.08" text-anchor="end" textLength="8.8" lengthAdjust="spacingAndGlyphs">30</text>
<line x1="307.6" y1="551.04" x2="312.1" y2="551.04" stroke="#000" stroke-width="1.4" stroke-linecap="butt"/>
<text x="303.5" y="553.64" font-size="9" fill="#000" stroke="#000" stroke-width="0.08" text-anchor="end" textLength="8.8" lengthAdjust="spacingAndGlyphs">40</text>
<line x1="307.6" y1="528.8" x2="312.1" y2="528.8" stroke="#000" stroke-width="1.4" stroke-linecap="butt"/>
<text x="303.5" y="531.4" font-size="9" fill="#000" stroke="#000" stroke-width="0.08" text-anchor="end" textLength="8.8" lengthAdjust="spacingAndGlyphs">50</text>
<line x1="478.2" y1="640" x2="483.2" y2="640" stroke="#000" stroke-width="1.4" stroke-linecap="butt"/>
<text x="487" y="642.6" font-size="9" fill="#000" stroke="#000" stroke-width="0.08" textLength="4.4" lengthAdjust="spacingAndGlyphs">0</text>
<line x1="478.2" y1="613.88" x2="483.2" y2="613.88" stroke="#000" stroke-width="1.4" stroke-linecap="butt"/>
<text x="487" y="616.48" font-size="9" fill="#000" stroke="#000" stroke-width="0.08" textLength="4.4" lengthAdjust="spacingAndGlyphs">2</text>
<line x1="478.2" y1="587.76" x2="483.2" y2="587.76" stroke="#000" stroke-width="1.4" stroke-linecap="butt"/>
<text x="487" y="590.36" font-size="9" fill="#000" stroke="#000" stroke-width="0.08" textLength="4.4" lengthAdjust="spacingAndGlyphs">4</text>
<line x1="478.2" y1="561.64" x2="483.2" y2="561.64" stroke="#000" stroke-width="1.4" stroke-linecap="butt"/>
<text x="487" y="564.24" font-size="9" fill="#000" stroke="#000" stroke-width="0.08" textLength="4.4" lengthAdjust="spacingAndGlyphs">6</text>
<line x1="478.2" y1="535.52" x2="483.2" y2="535.52" stroke="#000" stroke-width="1.4" stroke-linecap="butt"/>
<text x="487" y="538.12" font-size="9" fill="#000" stroke="#000" stroke-width="0.08" textLength="4.4" lengthAdjust="spacingAndGlyphs">8</text>
<line x1="312.1" y1="640" x2="312.1" y2="644.6" stroke="#000" stroke-width="1.4" stroke-linecap="butt"/>
<line x1="332.86" y1="640" x2="332.86" y2="644.6" stroke="#000" stroke-width="1.4" stroke-linecap="butt"/>
<line x1="353.62" y1="640" x2="353.62" y2="644.6" stroke="#000" stroke-width="1.4" stroke-linecap="butt"/>
<line x1="374.39" y1="640" x2="374.39" y2="644.6" stroke="#000" stroke-width="1.4" stroke-linecap="butt"/>
<line x1="395.15" y1="640" x2="395.15" y2="644.6" stroke="#000" stroke-width="1.4" stroke-linecap="butt"/>
<line x1="415.91" y1="640" x2="415.91" y2="644.6" stroke="#000" stroke-width="1.4" stroke-linecap="butt"/>
<line x1="436.68" y1="640" x2="436.68" y2="644.6" stroke="#000" stroke-width="1.4" stroke-linecap="butt"/>
<line x1="457.44" y1="640" x2="457.44" y2="644.6" stroke="#000" stroke-width="1.4" stroke-linecap="butt"/>
<line x1="478.2" y1="640" x2="478.2" y2="644.6" stroke="#000" stroke-width="1.4" stroke-linecap="butt"/>
<text x="312.1" y="656.2" font-size="9" fill="#000" stroke="#000" stroke-width="0.08" text-anchor="middle" textLength="4.45" lengthAdjust="spacingAndGlyphs">0</text>
<text x="332.86" y="656.2" font-size="9" fill="#000" stroke="#000" stroke-width="0.08" text-anchor="middle" textLength="8.9" lengthAdjust="spacingAndGlyphs">10</text>
<text x="353.62" y="656.2" font-size="9" fill="#000" stroke="#000" stroke-width="0.08" text-anchor="middle" textLength="8.9" lengthAdjust="spacingAndGlyphs">20</text>
<text x="374.39" y="656.2" font-size="9" fill="#000" stroke="#000" stroke-width="0.08" text-anchor="middle" textLength="8.9" lengthAdjust="spacingAndGlyphs">30</text>
<text x="395.15" y="656.2" font-size="9" fill="#000" stroke="#000" stroke-width="0.08" text-anchor="middle" textLength="8.9" lengthAdjust="spacingAndGlyphs">40</text>
<text x="415.91" y="656.2" font-size="9" fill="#000" stroke="#000" stroke-width="0.08" text-anchor="middle" textLength="8.9" lengthAdjust="spacingAndGlyphs">50</text>
<text x="436.68" y="656.2" font-size="9" fill="#000" stroke="#000" stroke-width="0.08" text-anchor="middle" textLength="8.9" lengthAdjust="spacingAndGlyphs">60</text>
<text x="457.44" y="656.2" font-size="9" fill="#000" stroke="#000" stroke-width="0.08" text-anchor="middle" textLength="8.9" lengthAdjust="spacingAndGlyphs">70</text>
<text x="478.2" y="656.2" font-size="9" fill="#000" stroke="#000" stroke-width="0.08" text-anchor="middle" textLength="8.9" lengthAdjust="spacingAndGlyphs">80</text>
<rect x="427.9" y="541.7" width="9.8" height="93" fill="none" stroke="#000" stroke-width="1.6" stroke-dasharray="3.2,1.6"/>
<line x1="438.2" y1="532.7" x2="434.2" y2="540.9" stroke="#000" stroke-width="1.4" stroke-linecap="butt"/>
<polygon points="434.2,540.9 433.8,536.25 438.11,538.36" fill="#000"/>
<text x="431.4" y="520.5" font-size="8.2" fill="#000" stroke="#000" stroke-width="0.1" textLength="44.3" lengthAdjust="spacingAndGlyphs">NK-enriched</text>
<text x="431" y="529.6" font-size="8.2" fill="#000" stroke="#000" stroke-width="0.1" textLength="25.6" lengthAdjust="spacingAndGlyphs">sample</text>
<polyline points="312.1,640 332.86,640 434.6,628.88 440.83,640" fill="none" stroke="#d9907e" stroke-width="1.5" stroke-linejoin="round"/>
<polygon points="312.1,637.14 309.24,642.14 314.96,642.14" fill="#d9907e"/>
<polygon points="332.86,637.14 330,642.14 335.72,642.14" fill="#d9907e"/>
<polygon points="434.6,626.02 431.74,631.02 437.46,631.02" fill="#d9907e"/>
<polygon points="440.83,637.14 437.97,642.14 443.69,642.14" fill="#d9907e"/>
<polyline points="312.1,585.51 332.86,640 434.6,556.6 440.83,591.07" fill="none" stroke="#4696e0" stroke-width="1.6" stroke-linejoin="round"/>
<polygon points="312.1,583.75 313.86,585.51 312.1,587.27 310.34,585.51" fill="#4696e0"/>
<polygon points="332.86,638.24 334.62,640 332.86,641.76 331.1,640" fill="#4696e0"/>
<polygon points="434.6,554.84 436.36,556.6 434.6,558.36 432.84,556.6" fill="#4696e0"/>
<polygon points="440.83,589.31 442.59,591.07 440.83,592.83 439.07,591.07" fill="#4696e0"/>
<polyline points="312.1,583.29 332.86,640 434.6,553.26 440.83,594.85" fill="none" stroke="#142a72" stroke-width="1.6" stroke-linejoin="round"/>
<polygon points="312.1,585.11 310.28,581.92 313.92,581.92" fill="#142a72"/>
<polygon points="332.86,641.82 331.04,638.63 334.68,638.63" fill="#142a72"/>
<polygon points="434.6,555.08 432.78,551.9 436.42,551.9" fill="#142a72"/>
<polygon points="440.83,596.67 439.01,593.49 442.65,593.49" fill="#142a72"/>
<polyline points="312.1,587.74 332.86,640 434.6,545.7 440.83,596.63" fill="none" stroke="#c95c55" stroke-width="1.6" stroke-linejoin="round"/>
<rect x="309.57" y="585.21" width="5.06" height="5.06" fill="#c95c55"/>
<rect x="330.33" y="637.47" width="5.06" height="5.06" fill="#c95c55"/>
<rect x="432.07" y="543.17" width="5.06" height="5.06" fill="#c95c55"/>
<rect x="438.3" y="594.1" width="5.06" height="5.06" fill="#c95c55"/>
<polyline points="312.1,579.06 332.86,640 434.6,549.26 440.83,598.63" fill="none" stroke="#9c0229" stroke-width="1.9" stroke-linejoin="round"/>
<circle cx="312.1" cy="579.06" r="2.42" fill="#9c0229"/>
<circle cx="332.86" cy="640" r="2.42" fill="#9c0229"/>
<circle cx="434.6" cy="549.26" r="2.42" fill="#9c0229"/>
<circle cx="440.83" cy="598.63" r="2.42" fill="#9c0229"/>
<polyline points="312.1,604.74 332.86,629.68 434.6,587.37 440.83,597.55" fill="none" stroke="#b45f0c" stroke-width="1.35" stroke-linejoin="round" stroke-dasharray="3.2,1.8"/>
<circle cx="312.1" cy="604.74" r="3.0" fill="#d0d0da"/>
<circle cx="312.1" cy="604.74" r="1.65" fill="#b45f0c"/>
<circle cx="332.86" cy="629.68" r="3.0" fill="#d0d0da"/>
<circle cx="332.86" cy="629.68" r="1.65" fill="#b45f0c"/>
<circle cx="434.6" cy="587.37" r="3.0" fill="#d0d0da"/>
<circle cx="434.6" cy="587.37" r="1.65" fill="#b45f0c"/>
<rect x="438.18" y="595.99" width="5.29" height="5.29" fill="#a8042f"/>
<text x="287.5" y="583" font-size="11.5" fill="#000" stroke="#000" stroke-width="0.3" text-anchor="middle" textLength="63" lengthAdjust="spacingAndGlyphs" transform="rotate(-90 287.5 583)">Allele frequency</text>
<text x="395.15" y="672" font-size="10.8" fill="#000" stroke="#000" stroke-width="0.35" text-anchor="middle" textLength="29.3" lengthAdjust="spacingAndGlyphs">Months</text>
<line x1="502.7" y1="556" x2="502.7" y2="559.7" stroke="#b45f0c" stroke-width="1.3" stroke-linecap="butt"/>
<line x1="502.7" y1="564.9" x2="502.7" y2="568.6" stroke="#b45f0c" stroke-width="1.3" stroke-linecap="butt"/>
<circle cx="502.7" cy="562.3" r="3.0" fill="#d0d0da"/>
<circle cx="502.7" cy="562.3" r="1.65" fill="#b45f0c"/>
<text x="499.5" y="592.8" font-size="10.4" fill="#b45f0c" stroke="#b45f0c" stroke-width="0.25" text-anchor="middle" textLength="39.4" lengthAdjust="spacingAndGlyphs" transform="rotate(90 499.5 592.8)">ALC (k/µL)</text>
<line x1="285.1" y1="458.8" x2="297.1" y2="458.8" stroke="#9c0229" stroke-width="1.8" stroke-linecap="butt"/>
<circle cx="291.1" cy="458.8" r="2.53" fill="#9c0229"/>
<text x="301.5" y="461.2" font-size="8.2" fill="#9c0229" stroke="#9c0229" stroke-width="0.08" textLength="63.2" lengthAdjust="spacingAndGlyphs">Gln1523Ter_TET2</text>
<line x1="285.1" y1="470.8" x2="297.1" y2="470.8" stroke="#c95c55" stroke-width="1.8" stroke-linecap="butt"/>
<rect x="288.57" y="468.27" width="5.06" height="5.06" fill="#c95c55"/>
<text x="301.5" y="473.2" font-size="8.2" fill="#c95c55" stroke="#c95c55" stroke-width="0.08" textLength="59.3" lengthAdjust="spacingAndGlyphs">Phe1104fs_TET2</text>
<line x1="285.1" y1="483" x2="297.1" y2="483" stroke="#d9907e" stroke-width="1.8" stroke-linecap="butt"/>
<polygon points="291.1,480.14 288.24,485.14 293.96,485.14" fill="#d9907e"/>
<text x="301.5" y="485.4" font-size="8.2" fill="#d9907e" stroke="#d9907e" stroke-width="0.08" textLength="53.5" lengthAdjust="spacingAndGlyphs">Gln897fs_TET2</text>
<line x1="285.1" y1="495" x2="297.1" y2="495" stroke="#55a42c" stroke-width="1.8" stroke-linecap="butt"/>
<polygon points="291.1,497.86 288.24,492.86 293.96,492.86" fill="#55a42c"/>
<text x="301.5" y="497.4" font-size="8.2" fill="#55a42c" stroke="#55a42c" stroke-width="0.08" textLength="60.9" lengthAdjust="spacingAndGlyphs">Asp661Ile_STAT3</text>
<line x1="285.1" y1="507" x2="297.1" y2="507" stroke="#4696e0" stroke-width="1.8" stroke-linecap="butt"/>
<polygon points="291.1,505.24 292.86,507 291.1,508.76 289.34,507" fill="#4696e0"/>
<text x="301.5" y="509.4" font-size="8.2" fill="#4696e0" stroke="#4696e0" stroke-width="0.08" textLength="68" lengthAdjust="spacingAndGlyphs">Asn340fs_TNFAIP3</text>
<text x="383.8" y="516.9" font-size="11.3" fill="#000" stroke="#000" stroke-width="0.15" textLength="23.6" lengthAdjust="spacingAndGlyphs">1444</text>
<path d="M312.6,656.9 V660.5 H328.2 V656.9" fill="none" stroke="#000" stroke-width="1.4"/>
<text x="310.8" y="669.2" font-size="7.6" fill="#111" stroke="#111" stroke-width="0.12" textLength="38.1" lengthAdjust="spacingAndGlyphs" font-style="italic">CP - 0 to 9</text>
<path d="M312.9,669.8 V674.2 H436.9 V669.8" fill="none" stroke="#000" stroke-width="1.7"/>
<text x="310.8" y="682.6" font-size="7.6" fill="#111" stroke="#111" stroke-width="0.12" textLength="56.1" lengthAdjust="spacingAndGlyphs" font-style="italic">Pred. - 0 to 60+</text>
<line x1="62.7" y1="735.92" x2="62.7" y2="852.7" stroke="#000" stroke-width="1.9" stroke-linecap="butt"/>
<line x1="229" y1="740.61" x2="229" y2="852.7" stroke="#000" stroke-width="1.9" stroke-linecap="butt"/>
<line x1="61.7" y1="851.7" x2="230" y2="851.7" stroke="#000" stroke-width="1.9" stroke-linecap="butt"/>
<line x1="58.2" y1="851.7" x2="62.7" y2="851.7" stroke="#000" stroke-width="1.4" stroke-linecap="butt"/>
<text x="54.1" y="854.3" font-size="9" fill="#000" stroke="#000" stroke-width="0.08" text-anchor="end" textLength="4.4" lengthAdjust="spacingAndGlyphs">0</text>
<line x1="58.2" y1="829.52" x2="62.7" y2="829.52" stroke="#000" stroke-width="1.4" stroke-linecap="butt"/>
<text x="54.1" y="832.12" font-size="9" fill="#000" stroke="#000" stroke-width="0.08" text-anchor="end" textLength="8.8" lengthAdjust="spacingAndGlyphs">10</text>
<line x1="58.2" y1="807.34" x2="62.7" y2="807.34" stroke="#000" stroke-width="1.4" stroke-linecap="butt"/>
<text x="54.1" y="809.94" font-size="9" fill="#000" stroke="#000" stroke-width="0.08" text-anchor="end" textLength="8.8" lengthAdjust="spacingAndGlyphs">20</text>
<line x1="58.2" y1="785.16" x2="62.7" y2="785.16" stroke="#000" stroke-width="1.4" stroke-linecap="butt"/>
<text x="54.1" y="787.76" font-size="9" fill="#000" stroke="#000" stroke-width="0.08" text-anchor="end" textLength="8.8" lengthAdjust="spacingAndGlyphs">30</text>
<line x1="58.2" y1="762.98" x2="62.7" y2="762.98" stroke="#000" stroke-width="1.4" stroke-linecap="butt"/>
<text x="54.1" y="765.58" font-size="9" fill="#000" stroke="#000" stroke-width="0.08" text-anchor="end" textLength="8.8" lengthAdjust="spacingAndGlyphs">40</text>
<line x1="58.2" y1="740.8" x2="62.7" y2="740.8" stroke="#000" stroke-width="1.4" stroke-linecap="butt"/>
<text x="54.1" y="743.4" font-size="9" fill="#000" stroke="#000" stroke-width="0.08" text-anchor="end" textLength="8.8" lengthAdjust="spacingAndGlyphs">50</text>
<line x1="229" y1="851.7" x2="234" y2="851.7" stroke="#000" stroke-width="1.4" stroke-linecap="butt"/>
<text x="237.8" y="854.3" font-size="9" fill="#000" stroke="#000" stroke-width="0.08" textLength="4.4" lengthAdjust="spacingAndGlyphs">0</text>
<line x1="229" y1="825.56" x2="234" y2="825.56" stroke="#000" stroke-width="1.4" stroke-linecap="butt"/>
<text x="237.8" y="828.16" font-size="9" fill="#000" stroke="#000" stroke-width="0.08" textLength="4.4" lengthAdjust="spacingAndGlyphs">2</text>
<line x1="229" y1="799.42" x2="234" y2="799.42" stroke="#000" stroke-width="1.4" stroke-linecap="butt"/>
<text x="237.8" y="802.02" font-size="9" fill="#000" stroke="#000" stroke-width="0.08" textLength="4.4" lengthAdjust="spacingAndGlyphs">4</text>
<line x1="229" y1="773.28" x2="234" y2="773.28" stroke="#000" stroke-width="1.4" stroke-linecap="butt"/>
<text x="237.8" y="775.88" font-size="9" fill="#000" stroke="#000" stroke-width="0.08" textLength="4.4" lengthAdjust="spacingAndGlyphs">6</text>
<line x1="229" y1="747.14" x2="234" y2="747.14" stroke="#000" stroke-width="1.4" stroke-linecap="butt"/>
<text x="237.8" y="749.74" font-size="9" fill="#000" stroke="#000" stroke-width="0.08" textLength="4.4" lengthAdjust="spacingAndGlyphs">8</text>
<line x1="62.7" y1="851.7" x2="62.7" y2="856.3" stroke="#000" stroke-width="1.4" stroke-linecap="butt"/>
<line x1="95.96" y1="851.7" x2="95.96" y2="856.3" stroke="#000" stroke-width="1.4" stroke-linecap="butt"/>
<line x1="129.22" y1="851.7" x2="129.22" y2="856.3" stroke="#000" stroke-width="1.4" stroke-linecap="butt"/>
<line x1="162.48" y1="851.7" x2="162.48" y2="856.3" stroke="#000" stroke-width="1.4" stroke-linecap="butt"/>
<line x1="195.74" y1="851.7" x2="195.74" y2="856.3" stroke="#000" stroke-width="1.4" stroke-linecap="butt"/>
<line x1="229" y1="851.7" x2="229" y2="856.3" stroke="#000" stroke-width="1.4" stroke-linecap="butt"/>
<text x="62.7" y="867.9" font-size="9" fill="#000" stroke="#000" stroke-width="0.08" text-anchor="middle" textLength="4.45" lengthAdjust="spacingAndGlyphs">0</text>
<text x="95.96" y="867.9" font-size="9" fill="#000" stroke="#000" stroke-width="0.08" text-anchor="middle" textLength="8.9" lengthAdjust="spacingAndGlyphs">10</text>
<text x="129.22" y="867.9" font-size="9" fill="#000" stroke="#000" stroke-width="0.08" text-anchor="middle" textLength="8.9" lengthAdjust="spacingAndGlyphs">20</text>
<text x="162.48" y="867.9" font-size="9" fill="#000" stroke="#000" stroke-width="0.08" text-anchor="middle" textLength="8.9" lengthAdjust="spacingAndGlyphs">30</text>
<text x="195.74" y="867.9" font-size="9" fill="#000" stroke="#000" stroke-width="0.08" text-anchor="middle" textLength="8.9" lengthAdjust="spacingAndGlyphs">40</text>
<text x="229" y="867.9" font-size="9" fill="#000" stroke="#000" stroke-width="0.08" text-anchor="middle" textLength="8.9" lengthAdjust="spacingAndGlyphs">50</text>
<polyline points="62.7,789.82 95.96,851.7 135.87,851.7 155.83,851.7 195.74,851.7" fill="none" stroke="#1f3c82" stroke-width="1.9" stroke-linejoin="round"/>
<rect x="60.17" y="787.29" width="5.06" height="5.06" fill="#1f3c82"/>
<rect x="93.43" y="849.17" width="5.06" height="5.06" fill="#1f3c82"/>
<rect x="133.34" y="849.17" width="5.06" height="5.06" fill="#1f3c82"/>
<rect x="153.3" y="849.17" width="5.06" height="5.06" fill="#1f3c82"/>
<rect x="193.21" y="849.17" width="5.06" height="5.06" fill="#1f3c82"/>
<polyline points="62.7,786.93 95.96,851.7 135.87,851.7 155.83,851.7 195.74,851.7" fill="none" stroke="#a8042f" stroke-width="1.8" stroke-linejoin="round"/>
<circle cx="62.7" cy="786.93" r="2.53" fill="#a8042f"/>
<circle cx="95.96" cy="851.7" r="2.53" fill="#a8042f"/>
<circle cx="135.87" cy="851.7" r="2.53" fill="#a8042f"/>
<circle cx="155.83" cy="851.7" r="2.53" fill="#a8042f"/>
<circle cx="195.74" cy="851.7" r="2.53" fill="#a8042f"/>
<polyline points="62.7,816.8 66.03,844.64 69.35,838.24 76,838.76 88.98,841.64 96.29,839.94" fill="none" stroke="#b45f0c" stroke-width="1.6" stroke-linejoin="round" stroke-dasharray="3.2,1.8"/>
<circle cx="62.7" cy="816.8" r="3.0" fill="#d0d0da"/>
<circle cx="62.7" cy="816.8" r="1.65" fill="#b45f0c"/>
<circle cx="66.03" cy="844.64" r="3.0" fill="#d0d0da"/>
<circle cx="66.03" cy="844.64" r="1.65" fill="#b45f0c"/>
<circle cx="69.35" cy="838.24" r="3.0" fill="#d0d0da"/>
<circle cx="69.35" cy="838.24" r="1.65" fill="#b45f0c"/>
<circle cx="76" cy="838.76" r="3.0" fill="#d0d0da"/>
<circle cx="76" cy="838.76" r="1.65" fill="#b45f0c"/>
<circle cx="88.98" cy="841.64" r="3.0" fill="#d0d0da"/>
<circle cx="88.98" cy="841.64" r="1.65" fill="#b45f0c"/>
<circle cx="96.29" cy="839.94" r="3.0" fill="#d0d0da"/>
<circle cx="96.29" cy="839.94" r="1.65" fill="#b45f0c"/>
<text x="38" y="795.5" font-size="11.5" fill="#000" stroke="#000" stroke-width="0.3" text-anchor="middle" textLength="63" lengthAdjust="spacingAndGlyphs" transform="rotate(-90 38 795.5)">Allele frequency</text>
<text x="145.85" y="883.7" font-size="10.8" fill="#000" stroke="#000" stroke-width="0.35" text-anchor="middle" textLength="29.3" lengthAdjust="spacingAndGlyphs">Months</text>
<line x1="253.4" y1="767.2" x2="253.4" y2="770.9" stroke="#b45f0c" stroke-width="1.3" stroke-linecap="butt"/>
<line x1="253.4" y1="776.1" x2="253.4" y2="779.8" stroke="#b45f0c" stroke-width="1.3" stroke-linecap="butt"/>
<circle cx="253.4" cy="773.5" r="3.0" fill="#d0d0da"/>
<circle cx="253.4" cy="773.5" r="1.65" fill="#b45f0c"/>
<text x="250.2" y="804.35" font-size="10.4" fill="#b45f0c" stroke="#b45f0c" stroke-width="0.25" text-anchor="middle" textLength="39.1" lengthAdjust="spacingAndGlyphs" transform="rotate(90 250.2 804.35)">ALC (k/µL)</text>
<line x1="35.4" y1="714.8" x2="47.4" y2="714.8" stroke="#a8042f" stroke-width="1.8" stroke-linecap="butt"/>
<circle cx="41.4" cy="714.8" r="2.53" fill="#a8042f"/>
<text x="51.5" y="717.2" font-size="8.2" fill="#a8042f" stroke="#a8042f" stroke-width="0.08" textLength="64.1" lengthAdjust="spacingAndGlyphs">Cys1633Ter_TET2</text>
<line x1="35.4" y1="726.9" x2="47.4" y2="726.9" stroke="#1f3c82" stroke-width="1.8" stroke-linecap="butt"/>
<rect x="38.87" y="724.37" width="5.06" height="5.06" fill="#1f3c82"/>
<text x="51.5" y="729.3" font-size="8.2" fill="#1f3c82" stroke="#1f3c82" stroke-width="0.08" textLength="65.2" lengthAdjust="spacingAndGlyphs">Ser614Arg_STAT3</text>
<text x="133.7" y="729.1" font-size="11.3" fill="#000" stroke="#000" stroke-width="0.15" textLength="24.2" lengthAdjust="spacingAndGlyphs">1909</text>
<path d="M62.3,868.6 V870.9 H65.3 V868.6" fill="none" stroke="#000" stroke-width="1.6"/>
<text x="60.4" y="878.4" font-size="7.6" fill="#111" stroke="#111" stroke-width="0.12" textLength="46.1" lengthAdjust="spacingAndGlyphs" font-style="italic">Pred. - 0 to 1</text>
<path d="M61.8,880.3 V884.6 H89.8 V880.3" fill="none" stroke="#000" stroke-width="1.6"/>
<text x="60.4" y="893" font-size="7.6" fill="#111" stroke="#111" stroke-width="0.12" textLength="38.5" lengthAdjust="spacingAndGlyphs" font-style="italic">CP - 0 to 9</text>
<line x1="312.1" y1="740.2" x2="312.1" y2="852.7" stroke="#000" stroke-width="1.9" stroke-linecap="butt"/>
<line x1="472.2" y1="744.94" x2="472.2" y2="852.7" stroke="#000" stroke-width="1.9" stroke-linecap="butt"/>
<line x1="311.1" y1="851.7" x2="473.2" y2="851.7" stroke="#000" stroke-width="1.9" stroke-linecap="butt"/>
<line x1="307.6" y1="851.7" x2="312.1" y2="851.7" stroke="#000" stroke-width="1.4" stroke-linecap="butt"/>
<text x="303.5" y="854.3" font-size="9" fill="#000" stroke="#000" stroke-width="0.08" text-anchor="end" textLength="4.4" lengthAdjust="spacingAndGlyphs">0</text>
<line x1="307.6" y1="830.34" x2="312.1" y2="830.34" stroke="#000" stroke-width="1.4" stroke-linecap="butt"/>
<text x="303.5" y="832.94" font-size="9" fill="#000" stroke="#000" stroke-width="0.08" text-anchor="end" textLength="8.8" lengthAdjust="spacingAndGlyphs">10</text>
<line x1="307.6" y1="808.98" x2="312.1" y2="808.98" stroke="#000" stroke-width="1.4" stroke-linecap="butt"/>
<text x="303.5" y="811.58" font-size="9" fill="#000" stroke="#000" stroke-width="0.08" text-anchor="end" textLength="8.8" lengthAdjust="spacingAndGlyphs">20</text>
<line x1="307.6" y1="787.62" x2="312.1" y2="787.62" stroke="#000" stroke-width="1.4" stroke-linecap="butt"/>
<text x="303.5" y="790.22" font-size="9" fill="#000" stroke="#000" stroke-width="0.08" text-anchor="end" textLength="8.8" lengthAdjust="spacingAndGlyphs">30</text>
<line x1="307.6" y1="766.26" x2="312.1" y2="766.26" stroke="#000" stroke-width="1.4" stroke-linecap="butt"/>
<text x="303.5" y="768.86" font-size="9" fill="#000" stroke="#000" stroke-width="0.08" text-anchor="end" textLength="8.8" lengthAdjust="spacingAndGlyphs">40</text>
<line x1="307.6" y1="744.9" x2="312.1" y2="744.9" stroke="#000" stroke-width="1.4" stroke-linecap="butt"/>
<text x="303.5" y="747.5" font-size="9" fill="#000" stroke="#000" stroke-width="0.08" text-anchor="end" textLength="8.8" lengthAdjust="spacingAndGlyphs">50</text>
<line x1="472.2" y1="851.7" x2="477.2" y2="851.7" stroke="#000" stroke-width="1.4" stroke-linecap="butt"/>
<text x="481" y="854.3" font-size="9" fill="#000" stroke="#000" stroke-width="0.08" textLength="4.4" lengthAdjust="spacingAndGlyphs">0</text>
<line x1="472.2" y1="826.58" x2="477.2" y2="826.58" stroke="#000" stroke-width="1.4" stroke-linecap="butt"/>
<text x="481" y="829.18" font-size="9" fill="#000" stroke="#000" stroke-width="0.08" textLength="4.4" lengthAdjust="spacingAndGlyphs">2</text>
<line x1="472.2" y1="801.46" x2="477.2" y2="801.46" stroke="#000" stroke-width="1.4" stroke-linecap="butt"/>
<text x="481" y="804.06" font-size="9" fill="#000" stroke="#000" stroke-width="0.08" textLength="4.4" lengthAdjust="spacingAndGlyphs">4</text>
<line x1="472.2" y1="776.34" x2="477.2" y2="776.34" stroke="#000" stroke-width="1.4" stroke-linecap="butt"/>
<text x="481" y="778.94" font-size="9" fill="#000" stroke="#000" stroke-width="0.08" textLength="4.4" lengthAdjust="spacingAndGlyphs">6</text>
<line x1="472.2" y1="751.22" x2="477.2" y2="751.22" stroke="#000" stroke-width="1.4" stroke-linecap="butt"/>
<text x="481" y="753.82" font-size="9" fill="#000" stroke="#000" stroke-width="0.08" textLength="4.4" lengthAdjust="spacingAndGlyphs">8</text>
<line x1="312.1" y1="851.7" x2="312.1" y2="856.3" stroke="#000" stroke-width="1.4" stroke-linecap="butt"/>
<line x1="352.12" y1="851.7" x2="352.12" y2="856.3" stroke="#000" stroke-width="1.4" stroke-linecap="butt"/>
<line x1="392.15" y1="851.7" x2="392.15" y2="856.3" stroke="#000" stroke-width="1.4" stroke-linecap="butt"/>
<line x1="432.18" y1="851.7" x2="432.18" y2="856.3" stroke="#000" stroke-width="1.4" stroke-linecap="butt"/>
<line x1="472.2" y1="851.7" x2="472.2" y2="856.3" stroke="#000" stroke-width="1.4" stroke-linecap="butt"/>
<text x="312.1" y="867.9" font-size="9" fill="#000" stroke="#000" stroke-width="0.08" text-anchor="middle" textLength="4.45" lengthAdjust="spacingAndGlyphs">0</text>
<text x="352.12" y="867.9" font-size="9" fill="#000" stroke="#000" stroke-width="0.08" text-anchor="middle" textLength="4.45" lengthAdjust="spacingAndGlyphs">5</text>
<text x="392.15" y="867.9" font-size="9" fill="#000" stroke="#000" stroke-width="0.08" text-anchor="middle" textLength="8.9" lengthAdjust="spacingAndGlyphs">10</text>
<text x="432.18" y="867.9" font-size="9" fill="#000" stroke="#000" stroke-width="0.08" text-anchor="middle" textLength="8.9" lengthAdjust="spacingAndGlyphs">15</text>
<text x="472.2" y="867.9" font-size="9" fill="#000" stroke="#000" stroke-width="0.08" text-anchor="middle" textLength="8.9" lengthAdjust="spacingAndGlyphs">20</text>
<polyline points="312.1,826.07 368.13,851.7 464.19,851.7" fill="none" stroke="#1f3c82" stroke-width="1.5" stroke-linejoin="round"/>
<polygon points="312.1,823.21 309.24,828.21 314.96,828.21" fill="#1f3c82"/>
<polygon points="368.13,848.84 365.27,853.85 371,853.85" fill="#1f3c82"/>
<polygon points="464.19,848.84 461.33,853.85 467.06,853.85" fill="#1f3c82"/>
<polyline points="312.1,760.28 368.13,779.29 464.19,763.06" fill="none" stroke="#c95c55" stroke-width="1.6" stroke-linejoin="round"/>
<circle cx="312.1" cy="760.28" r="2.53" fill="#c95c55"/>
<circle cx="368.13" cy="779.29" r="2.53" fill="#c95c55"/>
<circle cx="464.19" cy="763.06" r="2.53" fill="#c95c55"/>
<polyline points="312.1,769.68 368.13,839.52 464.19,801.5" fill="none" stroke="#a8042f" stroke-width="1.8" stroke-linejoin="round"/>
<rect x="309.57" y="767.15" width="5.06" height="5.06" fill="#a8042f"/>
<rect x="365.61" y="836.99" width="5.06" height="5.06" fill="#a8042f"/>
<rect x="461.67" y="798.97" width="5.06" height="5.06" fill="#a8042f"/>
<polyline points="312.1,773.95 368.13,834.37 464.19,820.55" fill="none" stroke="#b45f0c" stroke-width="1.4" stroke-linejoin="round" stroke-dasharray="3.2,1.8"/>
<circle cx="312.1" cy="773.95" r="3.0" fill="#d0d0da"/>
<circle cx="312.1" cy="773.95" r="1.65" fill="#b45f0c"/>
<circle cx="368.13" cy="834.37" r="3.0" fill="#d0d0da"/>
<circle cx="368.13" cy="834.37" r="1.65" fill="#b45f0c"/>
<circle cx="464.19" cy="820.55" r="3.0" fill="#d0d0da"/>
<circle cx="464.19" cy="820.55" r="1.65" fill="#b45f0c"/>
<text x="287.5" y="795.5" font-size="11.5" fill="#000" stroke="#000" stroke-width="0.3" text-anchor="middle" textLength="63" lengthAdjust="spacingAndGlyphs" transform="rotate(-90 287.5 795.5)">Allele frequency</text>
<text x="392.9" y="883.7" font-size="10.8" fill="#000" stroke="#000" stroke-width="0.35" text-anchor="middle" textLength="29.3" lengthAdjust="spacingAndGlyphs">Months</text>
<line x1="496.9" y1="769.4" x2="496.9" y2="773.1" stroke="#b45f0c" stroke-width="1.3" stroke-linecap="butt"/>
<line x1="496.9" y1="778.3" x2="496.9" y2="782" stroke="#b45f0c" stroke-width="1.3" stroke-linecap="butt"/>
<circle cx="496.9" cy="775.7" r="3.0" fill="#d0d0da"/>
<circle cx="496.9" cy="775.7" r="1.65" fill="#b45f0c"/>
<text x="493.7" y="806.15" font-size="10.4" fill="#b45f0c" stroke="#b45f0c" stroke-width="0.25" text-anchor="middle" textLength="39.3" lengthAdjust="spacingAndGlyphs" transform="rotate(90 493.7 806.15)">ALC (k/µL)</text>
<line x1="285.4" y1="702.7" x2="297.4" y2="702.7" stroke="#c95c55" stroke-width="1.8" stroke-linecap="butt"/>
<circle cx="291.4" cy="702.7" r="2.53" fill="#c95c55"/>
<text x="301.5" y="705.1" font-size="8.2" fill="#c95c55" stroke="#c95c55" stroke-width="0.08" textLength="63.3" lengthAdjust="spacingAndGlyphs">Glu1268Ter_TET2</text>
<line x1="285.4" y1="714.8" x2="297.4" y2="714.8" stroke="#a8042f" stroke-width="1.8" stroke-linecap="butt"/>
<rect x="288.87" y="712.27" width="5.06" height="5.06" fill="#a8042f"/>
<text x="301.5" y="717.2" font-size="8.2" fill="#a8042f" stroke="#a8042f" stroke-width="0.08" textLength="57.9" lengthAdjust="spacingAndGlyphs">Pro1013fs_TET2</text>
<line x1="285.4" y1="726.9" x2="297.4" y2="726.9" stroke="#1f3c82" stroke-width="1.8" stroke-linecap="butt"/>
<polygon points="291.4,724.04 288.54,729.04 294.26,729.04" fill="#1f3c82"/>
<text x="301.5" y="729.3" font-size="8.2" fill="#1f3c82" stroke="#1f3c82" stroke-width="0.08" textLength="64.1" lengthAdjust="spacingAndGlyphs">Ser614Arg_STAT3</text>
<text x="381" y="729" font-size="11.3" fill="#000" stroke="#000" stroke-width="0.15" textLength="23.4" lengthAdjust="spacingAndGlyphs">1967</text>
<path d="M312.5,868.6 V873.1 H352.5 V868.6" fill="none" stroke="#000" stroke-width="1.6"/>
<text x="312.1" y="882.4" font-size="7.6" fill="#111" stroke="#111" stroke-width="0.12" textLength="37.7" lengthAdjust="spacingAndGlyphs" font-style="italic">CP - 0 to 5</text>
<text x="311.3" y="891.4" font-size="7.6" fill="#111" stroke="#111" stroke-width="0.12" textLength="73.5" lengthAdjust="spacingAndGlyphs" font-style="italic">(also Pred, end unk.)</text>
<rect x="1" y="1" width="518" height="904" fill="none" stroke="#000" stroke-width="2"/>
</svg></body></html>
